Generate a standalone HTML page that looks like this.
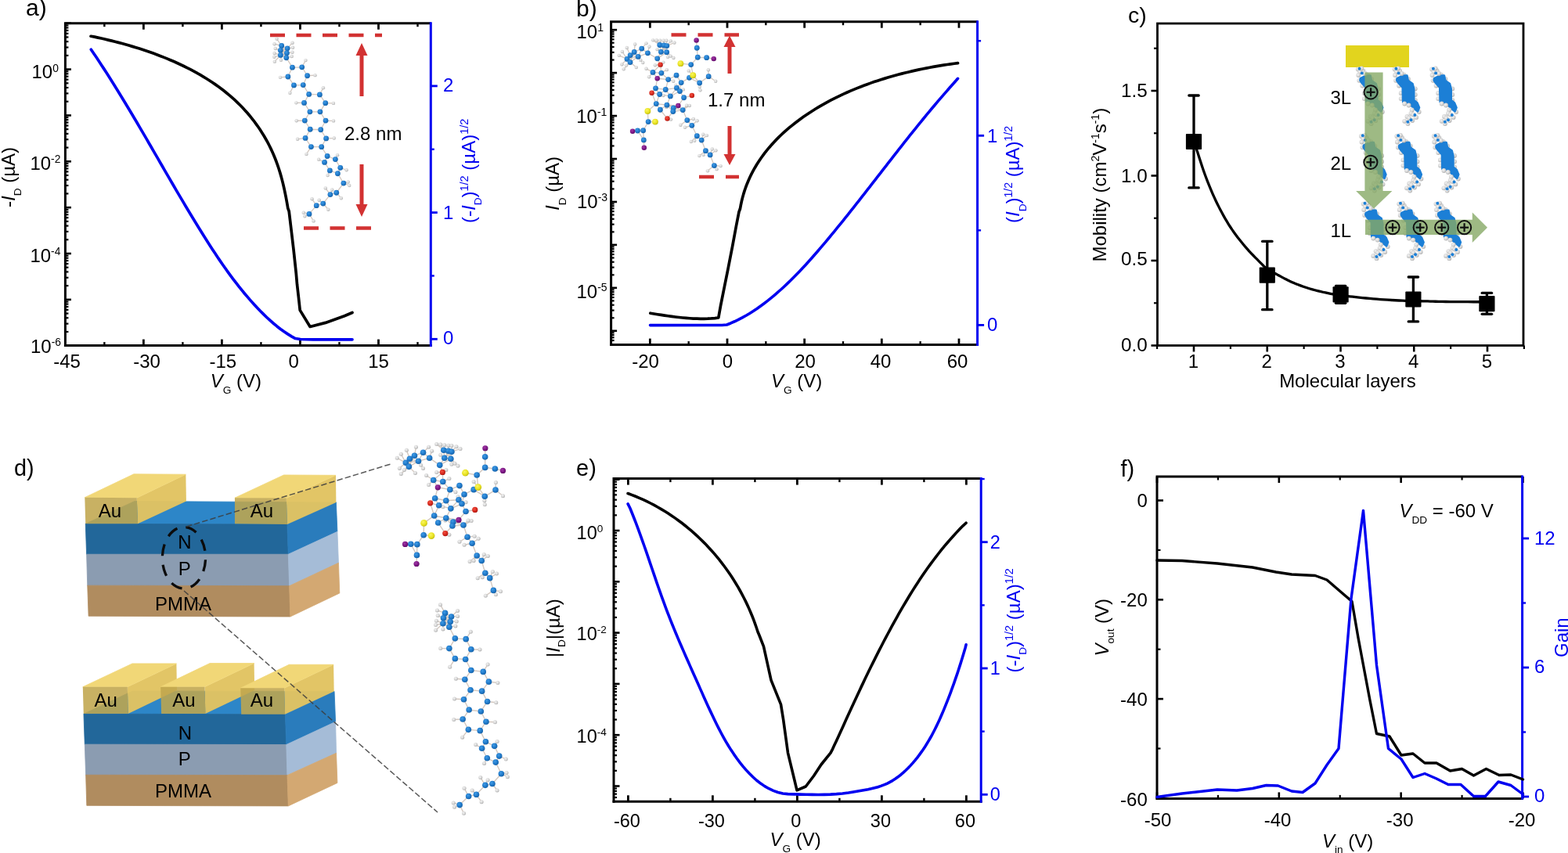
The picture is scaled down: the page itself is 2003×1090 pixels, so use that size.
<!DOCTYPE html>
<html lang="en"><head><meta charset="utf-8"><title>Figure</title>
<style>html,body{margin:0;padding:0;background:#fff;overflow:hidden}svg{display:block;font-family:"Liberation Sans",sans-serif}</style></head>
<body>
<svg width="2003" height="1090" viewBox="0 0 2003 1090">
<rect width="2003" height="1090" fill="#fff"/>
<defs><radialGradient id="gC" cx="0.38" cy="0.35" r="0.75"><stop offset="0" stop-color="#3f9be6"/><stop offset="0.55" stop-color="#1f78c8"/><stop offset="1" stop-color="#155c9e"/></radialGradient><radialGradient id="gH" cx="0.4" cy="0.38" r="0.75"><stop offset="0" stop-color="#f4f4f4"/><stop offset="0.5" stop-color="#d6d6d6"/><stop offset="1" stop-color="#9c9c9c"/></radialGradient><radialGradient id="gO" cx="0.38" cy="0.35" r="0.75"><stop offset="0" stop-color="#f2503f"/><stop offset="0.6" stop-color="#d3261c"/><stop offset="1" stop-color="#9c160e"/></radialGradient><radialGradient id="gS" cx="0.38" cy="0.35" r="0.75"><stop offset="0" stop-color="#fbf760"/><stop offset="0.6" stop-color="#e6e01e"/><stop offset="1" stop-color="#b4ae10"/></radialGradient><radialGradient id="gN" cx="0.38" cy="0.35" r="0.75"><stop offset="0" stop-color="#a03aa6"/><stop offset="0.6" stop-color="#7a1482"/><stop offset="1" stop-color="#560a5c"/></radialGradient></defs>
<line x1="183.38" y1="441.6" x2="183.38" y2="433.6" stroke="#000" stroke-width="2.8"/>
<line x1="183.38" y1="29.7" x2="183.38" y2="37.7" stroke="#000" stroke-width="2.8"/>
<line x1="283.41" y1="441.6" x2="283.41" y2="433.6" stroke="#000" stroke-width="2.8"/>
<line x1="283.41" y1="29.7" x2="283.41" y2="37.7" stroke="#000" stroke-width="2.8"/>
<line x1="383.45" y1="441.6" x2="383.45" y2="433.6" stroke="#000" stroke-width="2.8"/>
<line x1="383.45" y1="29.7" x2="383.45" y2="37.7" stroke="#000" stroke-width="2.8"/>
<line x1="483.49" y1="441.6" x2="483.49" y2="433.6" stroke="#000" stroke-width="2.8"/>
<line x1="483.49" y1="29.7" x2="483.49" y2="37.7" stroke="#000" stroke-width="2.8"/>
<line x1="133.36" y1="441.6" x2="133.36" y2="437.1" stroke="#000" stroke-width="2.4"/>
<line x1="133.36" y1="29.7" x2="133.36" y2="34.2" stroke="#000" stroke-width="2.4"/>
<line x1="233.4" y1="441.6" x2="233.4" y2="437.1" stroke="#000" stroke-width="2.4"/>
<line x1="233.4" y1="29.7" x2="233.4" y2="34.2" stroke="#000" stroke-width="2.4"/>
<line x1="333.43" y1="441.6" x2="333.43" y2="437.1" stroke="#000" stroke-width="2.4"/>
<line x1="333.43" y1="29.7" x2="333.43" y2="34.2" stroke="#000" stroke-width="2.4"/>
<line x1="433.47" y1="441.6" x2="433.47" y2="437.1" stroke="#000" stroke-width="2.4"/>
<line x1="433.47" y1="29.7" x2="433.47" y2="34.2" stroke="#000" stroke-width="2.4"/>
<line x1="533.5" y1="441.6" x2="533.5" y2="437.1" stroke="#000" stroke-width="2.4"/>
<line x1="533.5" y1="29.7" x2="533.5" y2="34.2" stroke="#000" stroke-width="2.4"/>
<line x1="83.4" y1="441.7" x2="90.9" y2="441.7" stroke="#000" stroke-width="2.6"/>
<line x1="83.4" y1="423.98" x2="87.4" y2="423.98" stroke="#000" stroke-width="2.2"/>
<line x1="83.4" y1="413.62" x2="87.4" y2="413.62" stroke="#000" stroke-width="2.2"/>
<line x1="83.4" y1="406.27" x2="87.4" y2="406.27" stroke="#000" stroke-width="2.2"/>
<line x1="83.4" y1="400.57" x2="87.4" y2="400.57" stroke="#000" stroke-width="2.2"/>
<line x1="83.4" y1="395.91" x2="87.4" y2="395.91" stroke="#000" stroke-width="2.2"/>
<line x1="83.4" y1="391.97" x2="87.4" y2="391.97" stroke="#000" stroke-width="2.2"/>
<line x1="83.4" y1="388.55" x2="87.4" y2="388.55" stroke="#000" stroke-width="2.2"/>
<line x1="83.4" y1="385.54" x2="87.4" y2="385.54" stroke="#000" stroke-width="2.2"/>
<line x1="83.4" y1="382.85" x2="90.9" y2="382.85" stroke="#000" stroke-width="2.6"/>
<line x1="83.4" y1="365.13" x2="87.4" y2="365.13" stroke="#000" stroke-width="2.2"/>
<line x1="83.4" y1="354.77" x2="87.4" y2="354.77" stroke="#000" stroke-width="2.2"/>
<line x1="83.4" y1="347.42" x2="87.4" y2="347.42" stroke="#000" stroke-width="2.2"/>
<line x1="83.4" y1="341.72" x2="87.4" y2="341.72" stroke="#000" stroke-width="2.2"/>
<line x1="83.4" y1="337.06" x2="87.4" y2="337.06" stroke="#000" stroke-width="2.2"/>
<line x1="83.4" y1="333.12" x2="87.4" y2="333.12" stroke="#000" stroke-width="2.2"/>
<line x1="83.4" y1="329.7" x2="87.4" y2="329.7" stroke="#000" stroke-width="2.2"/>
<line x1="83.4" y1="326.69" x2="87.4" y2="326.69" stroke="#000" stroke-width="2.2"/>
<line x1="83.4" y1="324" x2="90.9" y2="324" stroke="#000" stroke-width="2.6"/>
<line x1="83.4" y1="306.28" x2="87.4" y2="306.28" stroke="#000" stroke-width="2.2"/>
<line x1="83.4" y1="295.92" x2="87.4" y2="295.92" stroke="#000" stroke-width="2.2"/>
<line x1="83.4" y1="288.57" x2="87.4" y2="288.57" stroke="#000" stroke-width="2.2"/>
<line x1="83.4" y1="282.87" x2="87.4" y2="282.87" stroke="#000" stroke-width="2.2"/>
<line x1="83.4" y1="278.21" x2="87.4" y2="278.21" stroke="#000" stroke-width="2.2"/>
<line x1="83.4" y1="274.27" x2="87.4" y2="274.27" stroke="#000" stroke-width="2.2"/>
<line x1="83.4" y1="270.85" x2="87.4" y2="270.85" stroke="#000" stroke-width="2.2"/>
<line x1="83.4" y1="267.84" x2="87.4" y2="267.84" stroke="#000" stroke-width="2.2"/>
<line x1="83.4" y1="265.15" x2="90.9" y2="265.15" stroke="#000" stroke-width="2.6"/>
<line x1="83.4" y1="247.43" x2="87.4" y2="247.43" stroke="#000" stroke-width="2.2"/>
<line x1="83.4" y1="237.07" x2="87.4" y2="237.07" stroke="#000" stroke-width="2.2"/>
<line x1="83.4" y1="229.72" x2="87.4" y2="229.72" stroke="#000" stroke-width="2.2"/>
<line x1="83.4" y1="224.02" x2="87.4" y2="224.02" stroke="#000" stroke-width="2.2"/>
<line x1="83.4" y1="219.36" x2="87.4" y2="219.36" stroke="#000" stroke-width="2.2"/>
<line x1="83.4" y1="215.42" x2="87.4" y2="215.42" stroke="#000" stroke-width="2.2"/>
<line x1="83.4" y1="212" x2="87.4" y2="212" stroke="#000" stroke-width="2.2"/>
<line x1="83.4" y1="208.99" x2="87.4" y2="208.99" stroke="#000" stroke-width="2.2"/>
<line x1="83.4" y1="206.3" x2="90.9" y2="206.3" stroke="#000" stroke-width="2.6"/>
<line x1="83.4" y1="188.58" x2="87.4" y2="188.58" stroke="#000" stroke-width="2.2"/>
<line x1="83.4" y1="178.22" x2="87.4" y2="178.22" stroke="#000" stroke-width="2.2"/>
<line x1="83.4" y1="170.87" x2="87.4" y2="170.87" stroke="#000" stroke-width="2.2"/>
<line x1="83.4" y1="165.17" x2="87.4" y2="165.17" stroke="#000" stroke-width="2.2"/>
<line x1="83.4" y1="160.51" x2="87.4" y2="160.51" stroke="#000" stroke-width="2.2"/>
<line x1="83.4" y1="156.57" x2="87.4" y2="156.57" stroke="#000" stroke-width="2.2"/>
<line x1="83.4" y1="153.15" x2="87.4" y2="153.15" stroke="#000" stroke-width="2.2"/>
<line x1="83.4" y1="150.14" x2="87.4" y2="150.14" stroke="#000" stroke-width="2.2"/>
<line x1="83.4" y1="147.45" x2="90.9" y2="147.45" stroke="#000" stroke-width="2.6"/>
<line x1="83.4" y1="129.73" x2="87.4" y2="129.73" stroke="#000" stroke-width="2.2"/>
<line x1="83.4" y1="119.37" x2="87.4" y2="119.37" stroke="#000" stroke-width="2.2"/>
<line x1="83.4" y1="112.02" x2="87.4" y2="112.02" stroke="#000" stroke-width="2.2"/>
<line x1="83.4" y1="106.32" x2="87.4" y2="106.32" stroke="#000" stroke-width="2.2"/>
<line x1="83.4" y1="101.66" x2="87.4" y2="101.66" stroke="#000" stroke-width="2.2"/>
<line x1="83.4" y1="97.72" x2="87.4" y2="97.72" stroke="#000" stroke-width="2.2"/>
<line x1="83.4" y1="94.3" x2="87.4" y2="94.3" stroke="#000" stroke-width="2.2"/>
<line x1="83.4" y1="91.29" x2="87.4" y2="91.29" stroke="#000" stroke-width="2.2"/>
<line x1="83.4" y1="88.6" x2="90.9" y2="88.6" stroke="#000" stroke-width="2.6"/>
<line x1="83.4" y1="70.88" x2="87.4" y2="70.88" stroke="#000" stroke-width="2.2"/>
<line x1="83.4" y1="60.52" x2="87.4" y2="60.52" stroke="#000" stroke-width="2.2"/>
<line x1="83.4" y1="53.17" x2="87.4" y2="53.17" stroke="#000" stroke-width="2.2"/>
<line x1="83.4" y1="47.47" x2="87.4" y2="47.47" stroke="#000" stroke-width="2.2"/>
<line x1="83.4" y1="42.81" x2="87.4" y2="42.81" stroke="#000" stroke-width="2.2"/>
<line x1="83.4" y1="38.87" x2="87.4" y2="38.87" stroke="#000" stroke-width="2.2"/>
<line x1="83.4" y1="35.45" x2="87.4" y2="35.45" stroke="#000" stroke-width="2.2"/>
<line x1="83.4" y1="32.44" x2="87.4" y2="32.44" stroke="#000" stroke-width="2.2"/>
<line x1="83.4" y1="29.75" x2="90.9" y2="29.75" stroke="#000" stroke-width="2.6"/>
<line x1="550.3" y1="433.3" x2="558.8" y2="433.3" stroke="#0000f0" stroke-width="2.8"/>
<line x1="550.3" y1="271.6" x2="558.8" y2="271.6" stroke="#0000f0" stroke-width="2.8"/>
<line x1="550.3" y1="109.9" x2="558.8" y2="109.9" stroke="#0000f0" stroke-width="2.8"/>
<line x1="550.3" y1="352.45" x2="554.8" y2="352.45" stroke="#0000f0" stroke-width="2.4"/>
<line x1="550.3" y1="190.75" x2="554.8" y2="190.75" stroke="#0000f0" stroke-width="2.4"/>
<polyline fill="none" stroke="#000" stroke-width="3" stroke-linejoin="miter" points="83.4,443 83.4,29.7 550.3,29.7"/>
<line x1="82" y1="441.6" x2="551.7" y2="441.6" stroke="#000" stroke-width="3"/>
<line x1="550.3" y1="28.2" x2="550.3" y2="443" stroke="#0000f0" stroke-width="3"/>
<polyline fill="none" stroke="#000" stroke-width="3.7" stroke-linejoin="round" stroke-linecap="round" points="116,46.3 120.88,47.18 125.18,48.1 129.5,49.06 133.85,50.06 138.22,51.09 142.6,52.15 147,53.26 151.41,54.4 155.83,55.58 160.27,56.8 164.7,58.06 169.15,59.37 173.59,60.71 178.04,62.1 182.48,63.54 186.91,65.02 191.34,66.54 195.76,68.11 200.17,69.73 204.57,71.4 208.94,73.11 213.3,74.88 217.64,76.69 221.96,78.56 226.25,80.48 230.52,82.45 234.75,84.48 238.96,86.56 243.13,88.69 247.26,90.88 251.36,93.13 255.41,95.44 259.42,97.81 263.39,100.23 267.31,102.72 271.17,105.27 274.99,107.88 278.75,110.55 282.46,113.29 286.11,116.09 289.7,118.95 293.22,121.88 296.68,124.88 300.07,127.95 303.39,131.08 306.64,134.29 309.82,137.56 312.92,140.9 315.94,144.31 318.89,147.78 321.76,151.31 324.55,154.91 327.27,158.56 329.89,162.28 332.44,166.06 334.9,169.89 337.28,173.78 339.57,177.72 341.78,181.72 343.89,185.77 345.92,189.87 347.85,194.02 349.69,198.22 351.44,202.47 353.09,206.76 354.65,211.1 356.12,215.48 357.51,219.9 358.82,224.37 360.05,228.87 361.21,233.41 362.3,237.99 363.34,242.61 364.32,247.26 365.25,251.95 366.13,256.67 366.98,261.41 367.79,266.19 369.2,270 372.3,295.9 375,318.8 378.3,349.5 379.5,363.3 381.4,379.9 383.2,396.4 396.1,417.5 415.8,412.4 440,403.7 450,399.5"/>
<polyline fill="none" stroke="#0000f0" stroke-width="3.7" stroke-linejoin="round" stroke-linecap="round" points="116.3,63.2 119.52,67.92 122.82,72.83 126.09,77.75 129.33,82.68 132.55,87.62 135.74,92.57 138.91,97.53 142.05,102.5 145.18,107.47 148.28,112.45 151.36,117.44 154.43,122.43 157.48,127.43 160.51,132.44 163.52,137.45 166.53,142.46 169.52,147.49 172.49,152.51 175.46,157.54 178.42,162.57 181.37,167.61 184.31,172.65 187.24,177.69 190.17,182.74 193.1,187.78 196.02,192.83 198.94,197.88 201.86,202.93 204.78,207.98 207.7,213.03 210.62,218.08 213.54,223.12 216.47,228.17 219.41,233.22 222.35,238.26 225.3,243.31 228.26,248.35 231.22,253.38 234.2,258.42 237.19,263.45 240.2,268.47 243.21,273.5 246.25,278.52 249.3,283.53 252.36,288.54 255.45,293.54 258.55,298.53 261.68,303.52 264.83,308.5 268,313.46 271.21,318.41 274.44,323.34 277.71,328.24 281.02,333.12 284.36,337.97 287.75,342.79 291.17,347.58 294.64,352.34 298.16,357.05 301.73,361.72 305.35,366.35 309.03,370.92 312.77,375.45 316.56,379.93 320.42,384.35 324.34,388.71 328.32,393.01 332.38,397.24 336.51,401.4 340.71,405.46 344.99,409.42 349.34,413.24 353.78,416.92 358.3,420.43 362.91,423.77 367.6,426.91 372.39,429.83 377.27,432.52 383.7,433.5 400,433.8 450,433.8"/>
<text x="33" y="19.7" font-size="30">a)</text>
<text x="40.5" y="100.1" font-size="24">10<tspan font-size="13.8" dy="-7.7">0</tspan><tspan dy="7.7" font-size="1">&#8203;</tspan></text>
<text x="38.4" y="217.2" font-size="24">10<tspan font-size="13.8" dy="-9">-2</tspan><tspan dy="9" font-size="1">&#8203;</tspan></text>
<text x="38.4" y="334.6" font-size="24">10<tspan font-size="13.8" dy="-9">-4</tspan><tspan dy="9" font-size="1">&#8203;</tspan></text>
<text x="39" y="451.4" font-size="24">10<tspan font-size="13.8" dy="-9">-6</tspan><tspan dy="9" font-size="1">&#8203;</tspan></text>
<text x="85.5" y="470.3" font-size="24" text-anchor="middle">-45</text>
<text x="187.6" y="470.3" font-size="24" text-anchor="middle">-30</text>
<text x="284.8" y="470.3" font-size="24" text-anchor="middle">-15</text>
<text x="375.2" y="470.3" font-size="24" text-anchor="middle">0</text>
<text x="483.5" y="470.3" font-size="24" text-anchor="middle">15</text>
<text x="268.7" y="494.6" font-size="24"><tspan font-style="italic">V</tspan><tspan font-size="13.6" dy="8">G</tspan><tspan dy="-8" font-size="1">&#8203;</tspan> (V)</text>
<text transform="translate(19.3 265) rotate(-90)" font-size="24">-<tspan font-style="italic">I</tspan><tspan font-size="13.6" dy="7.5">D</tspan><tspan dy="-7.5" font-size="1">&#8203;</tspan> (µA)</text>
<text x="566" y="439.9" font-size="24" fill="#0000f0">0</text>
<text x="566" y="280.2" font-size="24" fill="#0000f0">1</text>
<text x="566" y="117.1" font-size="24" fill="#0000f0">2</text>
<text transform="translate(607 285) rotate(-90)" font-size="24" fill="#0000f0">(-<tspan font-style="italic">I</tspan><tspan font-size="13.6" dy="7.5">D</tspan><tspan dy="-7.5" font-size="1">&#8203;</tspan>)<tspan font-size="14.5" dy="-9.5">1/2</tspan><tspan dy="9.5" font-size="1">&#8203;</tspan> (µA)<tspan font-size="14.5" dy="-9.5">1/2</tspan><tspan dy="9.5" font-size="1">&#8203;</tspan></text>
<line x1="345" y1="45" x2="488" y2="45" stroke="#d23232" stroke-width="4.6" stroke-dasharray="19 14.5"/>
<line x1="388" y1="291.5" x2="476" y2="291.5" stroke="#d23232" stroke-width="4.6" stroke-dasharray="19 14.5"/>
<line x1="462" y1="123" x2="462" y2="70" stroke="#d23232" stroke-width="5"/>
<polygon fill="#d23232" points="462,55 454.5,71 469.5,71"/>
<line x1="462" y1="210" x2="462" y2="262" stroke="#d23232" stroke-width="5"/>
<polygon fill="#d23232" points="462,277 454.5,261 469.5,261"/>
<text x="440" y="178.5" font-size="24">2.8 nm</text>
<line x1="830.34" y1="440.6" x2="830.34" y2="432.6" stroke="#000" stroke-width="2.8"/>
<line x1="830.34" y1="27.7" x2="830.34" y2="35.7" stroke="#000" stroke-width="2.8"/>
<line x1="929" y1="440.6" x2="929" y2="432.6" stroke="#000" stroke-width="2.8"/>
<line x1="929" y1="27.7" x2="929" y2="35.7" stroke="#000" stroke-width="2.8"/>
<line x1="1027.66" y1="440.6" x2="1027.66" y2="432.6" stroke="#000" stroke-width="2.8"/>
<line x1="1027.66" y1="27.7" x2="1027.66" y2="35.7" stroke="#000" stroke-width="2.8"/>
<line x1="1126.32" y1="440.6" x2="1126.32" y2="432.6" stroke="#000" stroke-width="2.8"/>
<line x1="1126.32" y1="27.7" x2="1126.32" y2="35.7" stroke="#000" stroke-width="2.8"/>
<line x1="1224.98" y1="440.6" x2="1224.98" y2="432.6" stroke="#000" stroke-width="2.8"/>
<line x1="1224.98" y1="27.7" x2="1224.98" y2="35.7" stroke="#000" stroke-width="2.8"/>
<line x1="879.67" y1="440.6" x2="879.67" y2="436.1" stroke="#000" stroke-width="2.4"/>
<line x1="879.67" y1="27.7" x2="879.67" y2="32.2" stroke="#000" stroke-width="2.4"/>
<line x1="978.33" y1="440.6" x2="978.33" y2="436.1" stroke="#000" stroke-width="2.4"/>
<line x1="978.33" y1="27.7" x2="978.33" y2="32.2" stroke="#000" stroke-width="2.4"/>
<line x1="1076.99" y1="440.6" x2="1076.99" y2="436.1" stroke="#000" stroke-width="2.4"/>
<line x1="1076.99" y1="27.7" x2="1076.99" y2="32.2" stroke="#000" stroke-width="2.4"/>
<line x1="1175.65" y1="440.6" x2="1175.65" y2="436.1" stroke="#000" stroke-width="2.4"/>
<line x1="1175.65" y1="27.7" x2="1175.65" y2="32.2" stroke="#000" stroke-width="2.4"/>
<line x1="780.6" y1="434.99" x2="784.6" y2="434.99" stroke="#000" stroke-width="2.2"/>
<line x1="780.6" y1="431.31" x2="784.6" y2="431.31" stroke="#000" stroke-width="2.2"/>
<line x1="780.6" y1="428.13" x2="784.6" y2="428.13" stroke="#000" stroke-width="2.2"/>
<line x1="780.6" y1="425.31" x2="784.6" y2="425.31" stroke="#000" stroke-width="2.2"/>
<line x1="780.6" y1="422.8" x2="788.1" y2="422.8" stroke="#000" stroke-width="2.6"/>
<line x1="780.6" y1="406.26" x2="784.6" y2="406.26" stroke="#000" stroke-width="2.2"/>
<line x1="780.6" y1="396.58" x2="784.6" y2="396.58" stroke="#000" stroke-width="2.2"/>
<line x1="780.6" y1="389.72" x2="784.6" y2="389.72" stroke="#000" stroke-width="2.2"/>
<line x1="780.6" y1="384.39" x2="784.6" y2="384.39" stroke="#000" stroke-width="2.2"/>
<line x1="780.6" y1="380.04" x2="784.6" y2="380.04" stroke="#000" stroke-width="2.2"/>
<line x1="780.6" y1="376.36" x2="784.6" y2="376.36" stroke="#000" stroke-width="2.2"/>
<line x1="780.6" y1="373.18" x2="784.6" y2="373.18" stroke="#000" stroke-width="2.2"/>
<line x1="780.6" y1="370.36" x2="784.6" y2="370.36" stroke="#000" stroke-width="2.2"/>
<line x1="780.6" y1="367.85" x2="788.1" y2="367.85" stroke="#000" stroke-width="2.6"/>
<line x1="780.6" y1="351.31" x2="784.6" y2="351.31" stroke="#000" stroke-width="2.2"/>
<line x1="780.6" y1="341.63" x2="784.6" y2="341.63" stroke="#000" stroke-width="2.2"/>
<line x1="780.6" y1="334.77" x2="784.6" y2="334.77" stroke="#000" stroke-width="2.2"/>
<line x1="780.6" y1="329.44" x2="784.6" y2="329.44" stroke="#000" stroke-width="2.2"/>
<line x1="780.6" y1="325.09" x2="784.6" y2="325.09" stroke="#000" stroke-width="2.2"/>
<line x1="780.6" y1="321.41" x2="784.6" y2="321.41" stroke="#000" stroke-width="2.2"/>
<line x1="780.6" y1="318.23" x2="784.6" y2="318.23" stroke="#000" stroke-width="2.2"/>
<line x1="780.6" y1="315.41" x2="784.6" y2="315.41" stroke="#000" stroke-width="2.2"/>
<line x1="780.6" y1="312.9" x2="788.1" y2="312.9" stroke="#000" stroke-width="2.6"/>
<line x1="780.6" y1="296.36" x2="784.6" y2="296.36" stroke="#000" stroke-width="2.2"/>
<line x1="780.6" y1="286.68" x2="784.6" y2="286.68" stroke="#000" stroke-width="2.2"/>
<line x1="780.6" y1="279.82" x2="784.6" y2="279.82" stroke="#000" stroke-width="2.2"/>
<line x1="780.6" y1="274.49" x2="784.6" y2="274.49" stroke="#000" stroke-width="2.2"/>
<line x1="780.6" y1="270.14" x2="784.6" y2="270.14" stroke="#000" stroke-width="2.2"/>
<line x1="780.6" y1="266.46" x2="784.6" y2="266.46" stroke="#000" stroke-width="2.2"/>
<line x1="780.6" y1="263.28" x2="784.6" y2="263.28" stroke="#000" stroke-width="2.2"/>
<line x1="780.6" y1="260.46" x2="784.6" y2="260.46" stroke="#000" stroke-width="2.2"/>
<line x1="780.6" y1="257.95" x2="788.1" y2="257.95" stroke="#000" stroke-width="2.6"/>
<line x1="780.6" y1="241.41" x2="784.6" y2="241.41" stroke="#000" stroke-width="2.2"/>
<line x1="780.6" y1="231.73" x2="784.6" y2="231.73" stroke="#000" stroke-width="2.2"/>
<line x1="780.6" y1="224.87" x2="784.6" y2="224.87" stroke="#000" stroke-width="2.2"/>
<line x1="780.6" y1="219.54" x2="784.6" y2="219.54" stroke="#000" stroke-width="2.2"/>
<line x1="780.6" y1="215.19" x2="784.6" y2="215.19" stroke="#000" stroke-width="2.2"/>
<line x1="780.6" y1="211.51" x2="784.6" y2="211.51" stroke="#000" stroke-width="2.2"/>
<line x1="780.6" y1="208.33" x2="784.6" y2="208.33" stroke="#000" stroke-width="2.2"/>
<line x1="780.6" y1="205.51" x2="784.6" y2="205.51" stroke="#000" stroke-width="2.2"/>
<line x1="780.6" y1="203" x2="788.1" y2="203" stroke="#000" stroke-width="2.6"/>
<line x1="780.6" y1="186.46" x2="784.6" y2="186.46" stroke="#000" stroke-width="2.2"/>
<line x1="780.6" y1="176.78" x2="784.6" y2="176.78" stroke="#000" stroke-width="2.2"/>
<line x1="780.6" y1="169.92" x2="784.6" y2="169.92" stroke="#000" stroke-width="2.2"/>
<line x1="780.6" y1="164.59" x2="784.6" y2="164.59" stroke="#000" stroke-width="2.2"/>
<line x1="780.6" y1="160.24" x2="784.6" y2="160.24" stroke="#000" stroke-width="2.2"/>
<line x1="780.6" y1="156.56" x2="784.6" y2="156.56" stroke="#000" stroke-width="2.2"/>
<line x1="780.6" y1="153.38" x2="784.6" y2="153.38" stroke="#000" stroke-width="2.2"/>
<line x1="780.6" y1="150.56" x2="784.6" y2="150.56" stroke="#000" stroke-width="2.2"/>
<line x1="780.6" y1="148.05" x2="788.1" y2="148.05" stroke="#000" stroke-width="2.6"/>
<line x1="780.6" y1="131.51" x2="784.6" y2="131.51" stroke="#000" stroke-width="2.2"/>
<line x1="780.6" y1="121.83" x2="784.6" y2="121.83" stroke="#000" stroke-width="2.2"/>
<line x1="780.6" y1="114.97" x2="784.6" y2="114.97" stroke="#000" stroke-width="2.2"/>
<line x1="780.6" y1="109.64" x2="784.6" y2="109.64" stroke="#000" stroke-width="2.2"/>
<line x1="780.6" y1="105.29" x2="784.6" y2="105.29" stroke="#000" stroke-width="2.2"/>
<line x1="780.6" y1="101.61" x2="784.6" y2="101.61" stroke="#000" stroke-width="2.2"/>
<line x1="780.6" y1="98.43" x2="784.6" y2="98.43" stroke="#000" stroke-width="2.2"/>
<line x1="780.6" y1="95.61" x2="784.6" y2="95.61" stroke="#000" stroke-width="2.2"/>
<line x1="780.6" y1="93.1" x2="788.1" y2="93.1" stroke="#000" stroke-width="2.6"/>
<line x1="780.6" y1="76.56" x2="784.6" y2="76.56" stroke="#000" stroke-width="2.2"/>
<line x1="780.6" y1="66.88" x2="784.6" y2="66.88" stroke="#000" stroke-width="2.2"/>
<line x1="780.6" y1="60.02" x2="784.6" y2="60.02" stroke="#000" stroke-width="2.2"/>
<line x1="780.6" y1="54.69" x2="784.6" y2="54.69" stroke="#000" stroke-width="2.2"/>
<line x1="780.6" y1="50.34" x2="784.6" y2="50.34" stroke="#000" stroke-width="2.2"/>
<line x1="780.6" y1="46.66" x2="784.6" y2="46.66" stroke="#000" stroke-width="2.2"/>
<line x1="780.6" y1="43.48" x2="784.6" y2="43.48" stroke="#000" stroke-width="2.2"/>
<line x1="780.6" y1="40.66" x2="784.6" y2="40.66" stroke="#000" stroke-width="2.2"/>
<line x1="780.6" y1="38.15" x2="788.1" y2="38.15" stroke="#000" stroke-width="2.6"/>
<line x1="1248.6" y1="415.4" x2="1257.1" y2="415.4" stroke="#0000f0" stroke-width="2.8"/>
<line x1="1248.6" y1="173.3" x2="1257.1" y2="173.3" stroke="#0000f0" stroke-width="2.8"/>
<line x1="1248.6" y1="294.35" x2="1253.1" y2="294.35" stroke="#0000f0" stroke-width="2.4"/>
<line x1="1248.6" y1="52.25" x2="1253.1" y2="52.25" stroke="#0000f0" stroke-width="2.4"/>
<polyline fill="none" stroke="#000" stroke-width="3" stroke-linejoin="miter" points="780.6,442 780.6,27.7 1248.6,27.7"/>
<line x1="779.2" y1="440.6" x2="1250" y2="440.6" stroke="#000" stroke-width="3"/>
<line x1="1248.6" y1="26.2" x2="1248.6" y2="442" stroke="#0000f0" stroke-width="3"/>
<polyline fill="none" stroke="#000" stroke-width="3.7" stroke-linejoin="round" stroke-linecap="round" points="830.8,400.2 835.32,400.98 839.86,401.71 844.41,402.42 848.96,403.11 853.53,403.78 858.1,404.41 862.68,404.99 867.27,405.53 871.86,406.01 876.45,406.43 881.05,406.77 885.65,407.04 890.25,407.22 894.85,407.31 899.45,407.3 904.04,407.18 908.64,406.95 913.23,406.6 917.8,406 917.8,406 920.5,390.9 925.1,367.9 929.8,344.7 935.8,313.8 940.4,289 944,270.7 944,270.7 945.47,266.77 946.33,262 947.33,257.3 948.47,252.68 949.73,248.13 951.13,243.66 952.65,239.26 954.29,234.94 956.05,230.7 957.93,226.52 959.92,222.42 962.02,218.39 964.23,214.43 966.54,210.55 968.96,206.73 971.47,202.98 974.08,199.3 976.78,195.69 979.57,192.15 982.45,188.67 985.41,185.27 988.45,181.92 991.56,178.64 994.76,175.43 998.02,172.28 1001.35,169.2 1004.74,166.18 1008.2,163.21 1011.72,160.32 1015.29,157.48 1018.92,154.7 1022.59,151.98 1026.32,149.33 1030.08,146.73 1033.89,144.19 1037.74,141.7 1041.62,139.28 1045.54,136.91 1049.49,134.59 1053.48,132.33 1057.5,130.12 1061.56,127.97 1065.64,125.87 1069.75,123.83 1073.89,121.83 1078.06,119.89 1082.25,118 1086.47,116.16 1090.71,114.36 1094.97,112.62 1099.25,110.93 1103.56,109.28 1107.88,107.68 1112.22,106.12 1116.58,104.62 1120.96,103.15 1125.34,101.74 1129.75,100.36 1134.16,99.03 1138.58,97.75 1143.02,96.5 1147.46,95.3 1151.91,94.14 1156.37,93.01 1160.83,91.93 1165.3,90.89 1169.77,89.89 1174.24,88.92 1178.71,87.99 1183.18,87.1 1187.65,86.24 1192.12,85.42 1196.58,84.64 1201.04,83.89 1205.5,83.17 1209.94,82.49 1214.38,81.84 1218.81,81.22 1223.6,80.7"/>
<polyline fill="none" stroke="#0000f0" stroke-width="3.6" stroke-linejoin="round" stroke-linecap="round" points="830.5,415.6 922.3,415.5 928.43,415.01 933.48,412.97 938.45,410.77 943.36,408.4 948.19,405.89 952.96,403.23 957.66,400.43 962.3,397.51 966.87,394.46 971.38,391.29 975.83,388.02 980.23,384.64 984.57,381.17 988.85,377.61 993.09,373.98 997.27,370.27 1001.4,366.49 1005.49,362.64 1009.53,358.73 1013.53,354.76 1017.49,350.74 1021.4,346.68 1025.28,342.56 1029.12,338.41 1032.93,334.22 1036.7,330 1040.44,325.75 1044.15,321.48 1047.84,317.18 1051.5,312.88 1055.13,308.56 1058.74,304.24 1062.33,299.91 1065.9,295.57 1069.45,291.23 1072.98,286.89 1076.5,282.53 1080,278.18 1083.48,273.82 1086.95,269.46 1090.41,265.09 1093.86,260.72 1097.3,256.35 1100.73,251.97 1104.15,247.6 1107.56,243.22 1110.97,238.84 1114.37,234.46 1117.77,230.08 1121.17,225.69 1124.57,221.31 1127.97,216.93 1131.37,212.55 1134.77,208.17 1138.18,203.79 1141.59,199.42 1145,195.04 1148.43,190.67 1151.86,186.3 1155.3,181.93 1158.75,177.57 1162.22,173.21 1165.69,168.86 1169.18,164.51 1172.69,160.16 1176.21,155.82 1179.75,151.49 1183.3,147.16 1186.88,142.84 1190.48,138.52 1194.1,134.22 1197.74,129.91 1201.41,125.62 1205.1,121.34 1208.82,117.06 1212.57,112.79 1216.34,108.53 1220.15,104.28 1223.6,100.3"/>
<text x="736" y="20.5" font-size="30">b)</text>
<text x="736.5" y="48.8" font-size="24">10<tspan font-size="14" dy="-9">1</tspan><tspan dy="9" font-size="1">&#8203;</tspan></text>
<text x="736.2" y="157" font-size="24">10<tspan font-size="14" dy="-9">-1</tspan><tspan dy="9" font-size="1">&#8203;</tspan></text>
<text x="737" y="266" font-size="24">10<tspan font-size="14" dy="-9">-3</tspan><tspan dy="9" font-size="1">&#8203;</tspan></text>
<text x="736.5" y="380.8" font-size="24">10<tspan font-size="14" dy="-9">-5</tspan><tspan dy="9" font-size="1">&#8203;</tspan></text>
<text x="824.5" y="470.2" font-size="24" text-anchor="middle">-20</text>
<text x="929.5" y="470.2" font-size="24" text-anchor="middle">0</text>
<text x="1028.5" y="470.2" font-size="24" text-anchor="middle">20</text>
<text x="1125" y="470.2" font-size="24" text-anchor="middle">40</text>
<text x="1223" y="470.2" font-size="24" text-anchor="middle">60</text>
<text x="985" y="495" font-size="24"><tspan font-style="italic">V</tspan><tspan font-size="13.6" dy="8">G</tspan><tspan dy="-8" font-size="1">&#8203;</tspan> (V)</text>
<text transform="translate(714.3 269) rotate(-90)" font-size="24"><tspan font-style="italic">I</tspan><tspan font-size="13.6" dy="9">D</tspan><tspan dy="-9" font-size="1">&#8203;</tspan> (µA)</text>
<text x="1261" y="422.7" font-size="24" fill="#0000f0">0</text>
<text x="1261" y="181.9" font-size="24" fill="#0000f0">1</text>
<text transform="translate(1302 285) rotate(-90)" font-size="24" fill="#0000f0">(<tspan font-style="italic">I</tspan><tspan font-size="13.6" dy="8.5">D</tspan><tspan dy="-8.5" font-size="1">&#8203;</tspan>)<tspan font-size="14" dy="-9.5">1/2</tspan><tspan dy="9.5" font-size="1">&#8203;</tspan> (µA)<tspan font-size="14" dy="-9.5">1/2</tspan><tspan dy="9.5" font-size="1">&#8203;</tspan></text>
<line x1="857.5" y1="44.5" x2="944" y2="44.5" stroke="#d23232" stroke-width="4.6" stroke-dasharray="19 15"/>
<line x1="893" y1="226" x2="944" y2="226" stroke="#d23232" stroke-width="4.6" stroke-dasharray="19 15"/>
<line x1="932" y1="94" x2="932" y2="58" stroke="#d23232" stroke-width="5"/>
<polygon fill="#d23232" points="932,45.5 924.5,60 939.5,60"/>
<line x1="932" y1="161" x2="932" y2="198" stroke="#d23232" stroke-width="5"/>
<polygon fill="#d23232" points="932,211 924.5,197 939.5,197"/>
<text x="904" y="136.2" font-size="24">1.7 nm</text>
<line x1="1525" y1="441.5" x2="1525" y2="449.5" stroke="#000" stroke-width="2.6"/>
<line x1="1618.75" y1="441.5" x2="1618.75" y2="449.5" stroke="#000" stroke-width="2.6"/>
<line x1="1712.5" y1="441.5" x2="1712.5" y2="449.5" stroke="#000" stroke-width="2.6"/>
<line x1="1806.25" y1="441.5" x2="1806.25" y2="449.5" stroke="#000" stroke-width="2.6"/>
<line x1="1900" y1="441.5" x2="1900" y2="449.5" stroke="#000" stroke-width="2.6"/>
<line x1="1478.12" y1="441.5" x2="1478.12" y2="446" stroke="#000" stroke-width="2.2"/>
<line x1="1571.88" y1="441.5" x2="1571.88" y2="446" stroke="#000" stroke-width="2.2"/>
<line x1="1665.62" y1="441.5" x2="1665.62" y2="446" stroke="#000" stroke-width="2.2"/>
<line x1="1759.38" y1="441.5" x2="1759.38" y2="446" stroke="#000" stroke-width="2.2"/>
<line x1="1853.12" y1="441.5" x2="1853.12" y2="446" stroke="#000" stroke-width="2.2"/>
<line x1="1946.88" y1="441.5" x2="1946.88" y2="446" stroke="#000" stroke-width="2.2"/>
<line x1="1478.5" y1="441.5" x2="1470.5" y2="441.5" stroke="#000" stroke-width="2.6"/>
<line x1="1478.5" y1="333" x2="1470.5" y2="333" stroke="#000" stroke-width="2.6"/>
<line x1="1478.5" y1="224.5" x2="1470.5" y2="224.5" stroke="#000" stroke-width="2.6"/>
<line x1="1478.5" y1="116" x2="1470.5" y2="116" stroke="#000" stroke-width="2.6"/>
<line x1="1478.5" y1="387.25" x2="1474" y2="387.25" stroke="#000" stroke-width="2.2"/>
<line x1="1478.5" y1="278.75" x2="1474" y2="278.75" stroke="#000" stroke-width="2.2"/>
<line x1="1478.5" y1="170.25" x2="1474" y2="170.25" stroke="#000" stroke-width="2.2"/>
<line x1="1478.5" y1="61.75" x2="1474" y2="61.75" stroke="#000" stroke-width="2.2"/>
<rect x="1478.5" y="30" width="467.5" height="411.5" fill="none" stroke="#000" stroke-width="2.8"/>
<polyline fill="none" stroke="#000" stroke-width="3.3" stroke-linejoin="round" stroke-linecap="round" points="1525,181 1525.22,181.6 1525.45,182.19 1525.72,182.88 1526.05,183.76 1526.48,184.92 1527.02,186.45 1527.72,188.45 1528.6,191 1529.68,194.26 1530.96,198.19 1532.38,202.64 1533.93,207.44 1535.56,212.42 1537.24,217.41 1538.93,222.26 1540.6,226.8 1542.26,231.11 1543.96,235.4 1545.69,239.66 1547.46,243.88 1549.26,248.04 1551.1,252.16 1552.98,256.21 1554.9,260.2 1556.86,264.13 1558.85,268.01 1560.89,271.85 1562.96,275.62 1565.06,279.33 1567.21,282.96 1569.39,286.52 1571.6,290 1573.86,293.4 1576.19,296.72 1578.55,299.97 1580.95,303.15 1583.37,306.25 1585.79,309.28 1588.2,312.23 1590.6,315.1 1593.05,317.94 1595.6,320.78 1598.19,323.56 1600.77,326.26 1603.27,328.82 1605.63,331.21 1607.79,333.38 1609.7,335.3 1611.28,336.9 1612.54,338.19 1613.59,339.24 1614.52,340.13 1615.41,340.93 1616.36,341.71 1617.46,342.54 1618.8,343.5 1620.35,344.54 1622,345.58 1623.74,346.62 1625.57,347.66 1627.48,348.72 1629.46,349.79 1631.51,350.88 1633.6,352 1635.75,353.16 1637.96,354.35 1640.24,355.58 1642.59,356.81 1645,358.05 1647.49,359.27 1650.06,360.45 1652.7,361.6 1655.43,362.72 1658.26,363.82 1661.17,364.91 1664.15,365.98 1667.19,367.01 1670.26,368.02 1673.37,368.98 1676.5,369.9 1679.7,370.78 1683.01,371.63 1686.39,372.45 1689.8,373.24 1693.19,373.98 1696.51,374.67 1699.73,375.31 1702.8,375.9 1705.62,376.41 1708.19,376.83 1710.61,377.19 1712.99,377.51 1715.43,377.81 1718.04,378.11 1720.93,378.43 1724.2,378.8 1727.87,379.21 1731.85,379.64 1736.08,380.09 1740.49,380.54 1745.03,380.99 1749.61,381.42 1754.19,381.83 1758.7,382.2 1763.28,382.54 1768.06,382.88 1772.94,383.19 1777.83,383.49 1782.61,383.76 1787.2,384 1791.5,384.22 1795.4,384.4 1798.81,384.53 1801.78,384.62 1804.44,384.67 1806.91,384.69 1809.33,384.71 1811.81,384.72 1814.49,384.75 1817.5,384.8 1820.66,384.88 1823.77,384.96 1826.94,385.06 1830.24,385.16 1833.79,385.25 1837.67,385.35 1841.97,385.43 1846.8,385.5 1852.62,385.56 1859.54,385.61 1867.13,385.65 1874.93,385.69 1882.5,385.73 1889.4,385.76 1895.18,385.78 1899.4,385.8"/>
<line x1="1525" y1="239.9" x2="1525" y2="122" stroke="#000" stroke-width="3.3"/>
<line x1="1518.8" y1="239.9" x2="1531.2" y2="239.9" stroke="#000" stroke-width="3.3" stroke-linecap="round"/>
<line x1="1518.8" y1="122" x2="1531.2" y2="122" stroke="#000" stroke-width="3.3" stroke-linecap="round"/>
<rect x="1514.9" y="170.9" width="20.2" height="20.2" fill="#000" rx="1"/>
<line x1="1618.8" y1="395.7" x2="1618.8" y2="308.4" stroke="#000" stroke-width="3.3"/>
<line x1="1612.6" y1="395.7" x2="1625" y2="395.7" stroke="#000" stroke-width="3.3" stroke-linecap="round"/>
<line x1="1612.6" y1="308.4" x2="1625" y2="308.4" stroke="#000" stroke-width="3.3" stroke-linecap="round"/>
<rect x="1608.7" y="341.5" width="20.2" height="20.2" fill="#000" rx="1"/>
<line x1="1712.6" y1="387.3" x2="1712.6" y2="365.5" stroke="#000" stroke-width="3.3"/>
<line x1="1706.4" y1="387.3" x2="1718.8" y2="387.3" stroke="#000" stroke-width="3.3" stroke-linecap="round"/>
<line x1="1706.4" y1="365.5" x2="1718.8" y2="365.5" stroke="#000" stroke-width="3.3" stroke-linecap="round"/>
<rect x="1702.5" y="366.3" width="20.2" height="20.2" fill="#000" rx="1"/>
<line x1="1805.4" y1="410.9" x2="1805.4" y2="354" stroke="#000" stroke-width="3.3"/>
<line x1="1799.2" y1="410.9" x2="1811.6" y2="410.9" stroke="#000" stroke-width="3.3" stroke-linecap="round"/>
<line x1="1799.2" y1="354" x2="1811.6" y2="354" stroke="#000" stroke-width="3.3" stroke-linecap="round"/>
<rect x="1795.3" y="372.4" width="20.2" height="20.2" fill="#000" rx="1"/>
<line x1="1899.4" y1="401.3" x2="1899.4" y2="374.4" stroke="#000" stroke-width="3.3"/>
<line x1="1893.2" y1="401.3" x2="1905.6" y2="401.3" stroke="#000" stroke-width="3.3" stroke-linecap="round"/>
<line x1="1893.2" y1="374.4" x2="1905.6" y2="374.4" stroke="#000" stroke-width="3.3" stroke-linecap="round"/>
<rect x="1889.3" y="378" width="20.2" height="20.2" fill="#000" rx="1"/>
<text x="1441" y="28.8" font-size="28.5">c)</text>
<text x="1465.8" y="449" font-size="24.3" text-anchor="end">0.0</text>
<text x="1465.8" y="338.8" font-size="24.3" text-anchor="end">0.5</text>
<text x="1465.8" y="232.5" font-size="24.3" text-anchor="end">1.0</text>
<text x="1465.8" y="124" font-size="24.3" text-anchor="end">1.5</text>
<text x="1524.5" y="470.3" font-size="24" text-anchor="middle">1</text>
<text x="1618.25" y="470.3" font-size="24" text-anchor="middle">2</text>
<text x="1712" y="470.3" font-size="24" text-anchor="middle">3</text>
<text x="1805.75" y="470.3" font-size="24" text-anchor="middle">4</text>
<text x="1899.5" y="470.3" font-size="24" text-anchor="middle">5</text>
<text x="1721.5" y="495" font-size="24" text-anchor="middle">Molecular layers</text>
<text transform="translate(1413.4 334.5) rotate(-90)" font-size="24">Mobility (cm<tspan font-size="14" dy="-9">2</tspan><tspan dy="9" font-size="1">&#8203;</tspan>V<tspan font-size="14" dy="-9">-1</tspan><tspan dy="9" font-size="1">&#8203;</tspan>s<tspan font-size="14" dy="-9">-1</tspan><tspan dy="9" font-size="1">&#8203;</tspan>)</text>
<rect x="1719" y="58" width="81" height="28" fill="#e2d41e"/>
<text x="1699.5" y="132.5" font-size="24">3L</text>
<text x="1699.5" y="217" font-size="24">2L</text>
<text x="1699.5" y="303" font-size="24">1L</text>
<line x1="802.4" y1="1024.3" x2="802.4" y2="1016.3" stroke="#000" stroke-width="2.8"/>
<line x1="802.4" y1="611.6" x2="802.4" y2="619.6" stroke="#000" stroke-width="2.8"/>
<line x1="910.4" y1="1024.3" x2="910.4" y2="1016.3" stroke="#000" stroke-width="2.8"/>
<line x1="910.4" y1="611.6" x2="910.4" y2="619.6" stroke="#000" stroke-width="2.8"/>
<line x1="1018.4" y1="1024.3" x2="1018.4" y2="1016.3" stroke="#000" stroke-width="2.8"/>
<line x1="1018.4" y1="611.6" x2="1018.4" y2="619.6" stroke="#000" stroke-width="2.8"/>
<line x1="1126.4" y1="1024.3" x2="1126.4" y2="1016.3" stroke="#000" stroke-width="2.8"/>
<line x1="1126.4" y1="611.6" x2="1126.4" y2="619.6" stroke="#000" stroke-width="2.8"/>
<line x1="1234.4" y1="1024.3" x2="1234.4" y2="1016.3" stroke="#000" stroke-width="2.8"/>
<line x1="1234.4" y1="611.6" x2="1234.4" y2="619.6" stroke="#000" stroke-width="2.8"/>
<line x1="856.4" y1="1024.3" x2="856.4" y2="1019.8" stroke="#000" stroke-width="2.4"/>
<line x1="856.4" y1="611.6" x2="856.4" y2="616.1" stroke="#000" stroke-width="2.4"/>
<line x1="964.4" y1="1024.3" x2="964.4" y2="1019.8" stroke="#000" stroke-width="2.4"/>
<line x1="964.4" y1="611.6" x2="964.4" y2="616.1" stroke="#000" stroke-width="2.4"/>
<line x1="1072.4" y1="1024.3" x2="1072.4" y2="1019.8" stroke="#000" stroke-width="2.4"/>
<line x1="1072.4" y1="611.6" x2="1072.4" y2="616.1" stroke="#000" stroke-width="2.4"/>
<line x1="1180.4" y1="1024.3" x2="1180.4" y2="1019.8" stroke="#000" stroke-width="2.4"/>
<line x1="1180.4" y1="611.6" x2="1180.4" y2="616.1" stroke="#000" stroke-width="2.4"/>
<line x1="784" y1="1018.99" x2="788" y2="1018.99" stroke="#000" stroke-width="2.2"/>
<line x1="784" y1="1014.62" x2="788" y2="1014.62" stroke="#000" stroke-width="2.2"/>
<line x1="784" y1="1010.83" x2="788" y2="1010.83" stroke="#000" stroke-width="2.2"/>
<line x1="784" y1="1007.49" x2="788" y2="1007.49" stroke="#000" stroke-width="2.2"/>
<line x1="784" y1="1004.5" x2="791.5" y2="1004.5" stroke="#000" stroke-width="2.6"/>
<line x1="784" y1="984.84" x2="788" y2="984.84" stroke="#000" stroke-width="2.2"/>
<line x1="784" y1="973.34" x2="788" y2="973.34" stroke="#000" stroke-width="2.2"/>
<line x1="784" y1="965.19" x2="788" y2="965.19" stroke="#000" stroke-width="2.2"/>
<line x1="784" y1="958.86" x2="788" y2="958.86" stroke="#000" stroke-width="2.2"/>
<line x1="784" y1="953.69" x2="788" y2="953.69" stroke="#000" stroke-width="2.2"/>
<line x1="784" y1="949.32" x2="788" y2="949.32" stroke="#000" stroke-width="2.2"/>
<line x1="784" y1="945.53" x2="788" y2="945.53" stroke="#000" stroke-width="2.2"/>
<line x1="784" y1="942.19" x2="788" y2="942.19" stroke="#000" stroke-width="2.2"/>
<line x1="784" y1="939.2" x2="791.5" y2="939.2" stroke="#000" stroke-width="2.6"/>
<line x1="784" y1="919.54" x2="788" y2="919.54" stroke="#000" stroke-width="2.2"/>
<line x1="784" y1="908.04" x2="788" y2="908.04" stroke="#000" stroke-width="2.2"/>
<line x1="784" y1="899.89" x2="788" y2="899.89" stroke="#000" stroke-width="2.2"/>
<line x1="784" y1="893.56" x2="788" y2="893.56" stroke="#000" stroke-width="2.2"/>
<line x1="784" y1="888.39" x2="788" y2="888.39" stroke="#000" stroke-width="2.2"/>
<line x1="784" y1="884.02" x2="788" y2="884.02" stroke="#000" stroke-width="2.2"/>
<line x1="784" y1="880.23" x2="788" y2="880.23" stroke="#000" stroke-width="2.2"/>
<line x1="784" y1="876.89" x2="788" y2="876.89" stroke="#000" stroke-width="2.2"/>
<line x1="784" y1="873.9" x2="791.5" y2="873.9" stroke="#000" stroke-width="2.6"/>
<line x1="784" y1="854.24" x2="788" y2="854.24" stroke="#000" stroke-width="2.2"/>
<line x1="784" y1="842.74" x2="788" y2="842.74" stroke="#000" stroke-width="2.2"/>
<line x1="784" y1="834.59" x2="788" y2="834.59" stroke="#000" stroke-width="2.2"/>
<line x1="784" y1="828.26" x2="788" y2="828.26" stroke="#000" stroke-width="2.2"/>
<line x1="784" y1="823.09" x2="788" y2="823.09" stroke="#000" stroke-width="2.2"/>
<line x1="784" y1="818.72" x2="788" y2="818.72" stroke="#000" stroke-width="2.2"/>
<line x1="784" y1="814.93" x2="788" y2="814.93" stroke="#000" stroke-width="2.2"/>
<line x1="784" y1="811.59" x2="788" y2="811.59" stroke="#000" stroke-width="2.2"/>
<line x1="784" y1="808.6" x2="791.5" y2="808.6" stroke="#000" stroke-width="2.6"/>
<line x1="784" y1="788.94" x2="788" y2="788.94" stroke="#000" stroke-width="2.2"/>
<line x1="784" y1="777.44" x2="788" y2="777.44" stroke="#000" stroke-width="2.2"/>
<line x1="784" y1="769.29" x2="788" y2="769.29" stroke="#000" stroke-width="2.2"/>
<line x1="784" y1="762.96" x2="788" y2="762.96" stroke="#000" stroke-width="2.2"/>
<line x1="784" y1="757.79" x2="788" y2="757.79" stroke="#000" stroke-width="2.2"/>
<line x1="784" y1="753.42" x2="788" y2="753.42" stroke="#000" stroke-width="2.2"/>
<line x1="784" y1="749.63" x2="788" y2="749.63" stroke="#000" stroke-width="2.2"/>
<line x1="784" y1="746.29" x2="788" y2="746.29" stroke="#000" stroke-width="2.2"/>
<line x1="784" y1="743.3" x2="791.5" y2="743.3" stroke="#000" stroke-width="2.6"/>
<line x1="784" y1="723.64" x2="788" y2="723.64" stroke="#000" stroke-width="2.2"/>
<line x1="784" y1="712.14" x2="788" y2="712.14" stroke="#000" stroke-width="2.2"/>
<line x1="784" y1="703.99" x2="788" y2="703.99" stroke="#000" stroke-width="2.2"/>
<line x1="784" y1="697.66" x2="788" y2="697.66" stroke="#000" stroke-width="2.2"/>
<line x1="784" y1="692.49" x2="788" y2="692.49" stroke="#000" stroke-width="2.2"/>
<line x1="784" y1="688.12" x2="788" y2="688.12" stroke="#000" stroke-width="2.2"/>
<line x1="784" y1="684.33" x2="788" y2="684.33" stroke="#000" stroke-width="2.2"/>
<line x1="784" y1="680.99" x2="788" y2="680.99" stroke="#000" stroke-width="2.2"/>
<line x1="784" y1="678" x2="791.5" y2="678" stroke="#000" stroke-width="2.6"/>
<line x1="784" y1="658.34" x2="788" y2="658.34" stroke="#000" stroke-width="2.2"/>
<line x1="784" y1="646.84" x2="788" y2="646.84" stroke="#000" stroke-width="2.2"/>
<line x1="784" y1="638.69" x2="788" y2="638.69" stroke="#000" stroke-width="2.2"/>
<line x1="784" y1="632.36" x2="788" y2="632.36" stroke="#000" stroke-width="2.2"/>
<line x1="784" y1="627.19" x2="788" y2="627.19" stroke="#000" stroke-width="2.2"/>
<line x1="784" y1="622.82" x2="788" y2="622.82" stroke="#000" stroke-width="2.2"/>
<line x1="784" y1="619.03" x2="788" y2="619.03" stroke="#000" stroke-width="2.2"/>
<line x1="784" y1="615.69" x2="788" y2="615.69" stroke="#000" stroke-width="2.2"/>
<line x1="784" y1="612.7" x2="791.5" y2="612.7" stroke="#000" stroke-width="2.6"/>
<line x1="1253.2" y1="1015.3" x2="1261.7" y2="1015.3" stroke="#0000f0" stroke-width="2.8"/>
<line x1="1253.2" y1="854" x2="1261.7" y2="854" stroke="#0000f0" stroke-width="2.8"/>
<line x1="1253.2" y1="692.7" x2="1261.7" y2="692.7" stroke="#0000f0" stroke-width="2.8"/>
<line x1="1253.2" y1="934.65" x2="1257.7" y2="934.65" stroke="#0000f0" stroke-width="2.4"/>
<line x1="1253.2" y1="773.35" x2="1257.7" y2="773.35" stroke="#0000f0" stroke-width="2.4"/>
<line x1="1253.2" y1="612.05" x2="1257.7" y2="612.05" stroke="#0000f0" stroke-width="2.4"/>
<polyline fill="none" stroke="#000" stroke-width="3" stroke-linejoin="miter" points="784,1025.7 784,611.6 1253.2,611.6"/>
<line x1="782.6" y1="1024.3" x2="1254.6" y2="1024.3" stroke="#000" stroke-width="3"/>
<line x1="1253.2" y1="610.1" x2="1253.2" y2="1025.7" stroke="#0000f0" stroke-width="3"/>
<polyline fill="none" stroke="#000" stroke-width="3.6" stroke-linejoin="round" stroke-linecap="round" points="802.1,630.5 806.95,632.33 811.84,634.27 816.68,636.31 821.47,638.45 826.21,640.68 830.9,643.01 835.54,645.44 840.12,647.96 844.65,650.57 849.12,653.27 853.53,656.06 857.89,658.93 862.19,661.89 866.43,664.94 870.61,668.06 874.73,671.27 878.79,674.56 882.78,677.92 886.71,681.36 890.57,684.87 894.36,688.46 898.09,692.12 901.75,695.85 905.34,699.64 908.86,703.5 912.3,707.43 915.68,711.42 918.98,715.48 922.21,719.59 925.36,723.76 928.43,727.99 931.43,732.28 934.34,736.62 937.18,741.01 939.94,745.46 942.61,749.95 945.21,754.49 947.71,759.08 950.14,763.72 952.48,768.39 954.73,773.11 956.89,777.87 958.97,782.67 960.95,787.51 962.85,792.38 964.65,797.28 966.36,802.22 967.98,807.19 970,812 975.5,826.2 985,869.1 997.5,900.1 1000.6,919.2 1006.5,962.1 1018,1009.8 1029.3,1005 1039.5,991.5 1049,977 1061,962.1 1063.74,956.84 1066.15,951.62 1068.56,946.39 1070.97,941.15 1073.37,935.9 1075.78,930.65 1078.18,925.38 1080.59,920.11 1083,914.84 1085.42,909.56 1087.84,904.28 1090.28,899 1092.72,893.72 1095.17,888.44 1097.64,883.16 1100.12,877.88 1102.62,872.61 1105.13,867.34 1107.67,862.08 1110.22,856.82 1112.79,851.57 1115.38,846.33 1117.99,841.1 1120.62,835.88 1123.27,830.67 1125.94,825.47 1128.63,820.29 1131.34,815.13 1134.08,809.97 1136.84,804.84 1139.62,799.72 1142.42,794.63 1145.24,789.55 1148.09,784.49 1150.97,779.46 1153.88,774.44 1156.82,769.46 1159.79,764.49 1162.8,759.56 1165.85,754.65 1168.94,749.77 1172.07,744.92 1175.25,740.09 1178.47,735.3 1181.75,730.55 1185.07,725.82 1188.46,721.13 1191.9,716.47 1195.39,711.86 1198.95,707.27 1202.57,702.73 1206.26,698.23 1210.02,693.77 1213.84,689.34 1217.74,684.96 1221.72,680.63 1225.77,676.34 1229.9,672.09 1234.1,668.2"/>
<polyline fill="none" stroke="#0000f0" stroke-width="3.6" stroke-linejoin="round" stroke-linecap="round" points="802.1,643.9 804.91,649.53 807.34,655.5 809.7,661.47 812.01,667.44 814.26,673.4 816.46,679.37 818.62,685.33 820.75,691.29 822.84,697.25 824.91,703.2 826.96,709.16 828.99,715.11 831.01,721.05 833.03,727 835.04,732.94 837.07,738.87 839.1,744.8 841.15,750.73 843.23,756.65 845.33,762.57 847.46,768.48 849.63,774.39 851.85,780.3 854.11,786.19 856.42,792.08 858.78,797.97 861.18,803.85 863.61,809.72 866.07,815.59 868.57,821.45 871.09,827.3 873.63,833.14 876.18,838.98 878.76,844.81 881.34,850.63 883.92,856.45 886.51,862.25 889.1,868.05 891.68,873.84 894.25,879.62 896.83,885.39 899.4,891.15 902,896.9 904.61,902.64 907.26,908.37 909.94,914.09 912.67,919.8 915.46,925.49 918.32,931.14 921.25,936.75 924.28,942.31 927.41,947.81 930.65,953.24 934.02,958.6 937.52,963.86 941.16,969.03 944.95,974.1 948.92,979.05 953.06,983.87 957.38,988.55 961.91,993.01 966.64,997.22 971.59,1001.11 976.77,1004.63 982.2,1007.74 987.87,1010.37 993.81,1012.47 1000.02,1014 1006.5,1014.6 1014.23,1014.84 1021.98,1015.08 1029.73,1015.28 1037.48,1015.42 1045.23,1015.46 1052.98,1015.36 1060.72,1015.1 1068.44,1014.64 1076.15,1013.94 1083.84,1012.97 1091.5,1011.7 1095.74,1010.91 1100.17,1010.25 1104.54,1009.53 1108.85,1008.74 1113.08,1007.85 1117.24,1006.85 1121.32,1005.71 1125.32,1004.41 1129.23,1002.94 1133.06,1001.28 1136.79,999.41 1140.42,997.32 1143.96,995.04 1147.41,992.58 1150.76,989.96 1154.02,987.18 1157.18,984.28 1160.25,981.25 1163.23,978.12 1166.11,974.91 1168.89,971.62 1171.58,968.28 1174.19,964.88 1176.7,961.43 1179.13,957.94 1181.48,954.39 1183.76,950.8 1185.96,947.17 1188.1,943.49 1190.17,939.78 1192.18,936.02 1194.13,932.24 1196.03,928.42 1197.87,924.56 1199.67,920.68 1201.43,916.77 1203.15,912.84 1204.84,908.88 1206.49,904.9 1208.11,900.91 1209.71,896.89 1211.29,892.86 1212.84,888.82 1214.36,884.76 1215.87,880.7 1217.34,876.63 1218.79,872.55 1220.22,868.47 1221.62,864.39 1223,860.31 1224.34,856.23 1225.67,852.15 1226.96,848.09 1228.23,844.03 1229.47,839.98 1230.68,835.95 1231.87,831.93 1233.03,827.93 1234.1,823.8"/>
<text x="736" y="608.3" font-size="29">e)</text>
<text x="736.6" y="688.6" font-size="23.5">10<tspan font-size="13.6" dy="-9">0</tspan><tspan dy="9" font-size="1">&#8203;</tspan></text>
<text x="736.6" y="818.2" font-size="23.5">10<tspan font-size="13.6" dy="-9">-2</tspan><tspan dy="9" font-size="1">&#8203;</tspan></text>
<text x="736.6" y="949" font-size="23.5">10<tspan font-size="13.6" dy="-9">-4</tspan><tspan dy="9" font-size="1">&#8203;</tspan></text>
<text x="800.9" y="1057" font-size="23.5" text-anchor="middle">-60</text>
<text x="908.9" y="1057" font-size="23.5" text-anchor="middle">-30</text>
<text x="1016.9" y="1057" font-size="23.5" text-anchor="middle">0</text>
<text x="1124.9" y="1057" font-size="23.5" text-anchor="middle">30</text>
<text x="1232.9" y="1057" font-size="23.5" text-anchor="middle">60</text>
<text x="983.5" y="1081" font-size="24"><tspan font-style="italic">V</tspan><tspan font-size="13.6" dy="7.5">G</tspan><tspan dy="-7.5" font-size="1">&#8203;</tspan> (V)</text>
<text transform="translate(714.7 840) rotate(-90)" font-size="24">|<tspan font-style="italic">I</tspan><tspan font-size="13.6" dy="7.5">D</tspan><tspan dy="-7.5" font-size="1">&#8203;</tspan>|(µA)</text>
<text x="1264.8" y="1023.3" font-size="23.5" fill="#0000f0">0</text>
<text x="1264.8" y="862.3" font-size="23.5" fill="#0000f0">1</text>
<text x="1264.8" y="700.8" font-size="23.5" fill="#0000f0">2</text>
<text transform="translate(1303.4 859.5) rotate(-90)" font-size="24" fill="#0000f0">(-<tspan font-style="italic">I</tspan><tspan font-size="13.6" dy="7.5">D</tspan><tspan dy="-7.5" font-size="1">&#8203;</tspan>)<tspan font-size="14.5" dy="-9.5">1/2</tspan><tspan dy="9.5" font-size="1">&#8203;</tspan> (µA)<tspan font-size="14.5" dy="-9.5">1/2</tspan><tspan dy="9.5" font-size="1">&#8203;</tspan></text>
<line x1="1478" y1="1020.4" x2="1478" y2="1012.4" stroke="#000" stroke-width="2.6"/>
<line x1="1478" y1="609" x2="1478" y2="617" stroke="#000" stroke-width="2.6"/>
<line x1="1633.83" y1="1020.4" x2="1633.83" y2="1012.4" stroke="#000" stroke-width="2.6"/>
<line x1="1633.83" y1="609" x2="1633.83" y2="617" stroke="#000" stroke-width="2.6"/>
<line x1="1789.66" y1="1020.4" x2="1789.66" y2="1012.4" stroke="#000" stroke-width="2.6"/>
<line x1="1789.66" y1="609" x2="1789.66" y2="617" stroke="#000" stroke-width="2.6"/>
<line x1="1945.49" y1="1020.4" x2="1945.49" y2="1012.4" stroke="#000" stroke-width="2.6"/>
<line x1="1945.49" y1="609" x2="1945.49" y2="617" stroke="#000" stroke-width="2.6"/>
<line x1="1555.91" y1="1020.4" x2="1555.91" y2="1015.9" stroke="#000" stroke-width="2.2"/>
<line x1="1555.91" y1="609" x2="1555.91" y2="613.5" stroke="#000" stroke-width="2.2"/>
<line x1="1711.74" y1="1020.4" x2="1711.74" y2="1015.9" stroke="#000" stroke-width="2.2"/>
<line x1="1711.74" y1="609" x2="1711.74" y2="613.5" stroke="#000" stroke-width="2.2"/>
<line x1="1867.58" y1="1020.4" x2="1867.58" y2="1015.9" stroke="#000" stroke-width="2.2"/>
<line x1="1867.58" y1="609" x2="1867.58" y2="613.5" stroke="#000" stroke-width="2.2"/>
<line x1="1478" y1="639.5" x2="1486" y2="639.5" stroke="#000" stroke-width="2.6"/>
<line x1="1478" y1="766.3" x2="1486" y2="766.3" stroke="#000" stroke-width="2.6"/>
<line x1="1478" y1="893.1" x2="1486" y2="893.1" stroke="#000" stroke-width="2.6"/>
<line x1="1478" y1="1019.9" x2="1486" y2="1019.9" stroke="#000" stroke-width="2.6"/>
<line x1="1478" y1="702.9" x2="1482.5" y2="702.9" stroke="#000" stroke-width="2.2"/>
<line x1="1478" y1="829.7" x2="1482.5" y2="829.7" stroke="#000" stroke-width="2.2"/>
<line x1="1478" y1="956.5" x2="1482.5" y2="956.5" stroke="#000" stroke-width="2.2"/>
<line x1="1944.6" y1="1018" x2="1953.1" y2="1018" stroke="#0000f0" stroke-width="2.8"/>
<line x1="1944.6" y1="853" x2="1953.1" y2="853" stroke="#0000f0" stroke-width="2.8"/>
<line x1="1944.6" y1="688" x2="1953.1" y2="688" stroke="#0000f0" stroke-width="2.8"/>
<line x1="1944.6" y1="935.5" x2="1949.1" y2="935.5" stroke="#0000f0" stroke-width="2.4"/>
<line x1="1944.6" y1="770.5" x2="1949.1" y2="770.5" stroke="#0000f0" stroke-width="2.4"/>
<polyline fill="none" stroke="#000" stroke-width="3" stroke-linejoin="miter" points="1478,1021.8 1478,609 1944.6,609"/>
<line x1="1476.6" y1="1020.4" x2="1946" y2="1020.4" stroke="#000" stroke-width="3"/>
<line x1="1944.6" y1="607.5" x2="1944.6" y2="1021.8" stroke="#0000f0" stroke-width="3"/>
<polyline fill="none" stroke="#000" stroke-width="3.4" stroke-linejoin="round" stroke-linecap="round" points="1478,716 1510,716.5 1555,720 1600,725 1630,731 1650,734 1680,735.5 1695,741 1711.5,755.25 1727,768.5 1735,815 1742.5,855 1750,895 1758.5,937.5 1775,941 1790,965 1805,963 1820,975 1835,975 1852.5,985 1867.5,982.5 1882.5,991 1898.5,982.5 1915,990.5 1930,990 1945.5,996"/>
<polyline fill="none" stroke="#0000f0" stroke-width="3.4" stroke-linejoin="round" stroke-linecap="round" points="1478,1018.5 1510,1014 1555,1009 1580,1010 1600,1007.5 1617.5,1003.5 1632.5,1004 1650,1011 1664,1012.5 1680,1001 1695,977.5 1710,956.5 1726,765 1741.5,652.5 1758.5,850 1773.5,956.5 1790,970 1805,993.5 1820,988.5 1835,995 1850,1002.5 1866,1002.5 1882.5,1017.5 1897.5,1017.5 1914,999 1930,1003.5 1945.5,1015"/>
<text x="1431.5" y="609.3" font-size="29">f)</text>
<text x="1465.8" y="648.1" font-size="24" text-anchor="end">0</text>
<text x="1465.8" y="774.9" font-size="24" text-anchor="end">-20</text>
<text x="1465.8" y="901.7" font-size="24" text-anchor="end">-40</text>
<text x="1465.8" y="1030.4" font-size="24" text-anchor="end">-60</text>
<text x="1479.1" y="1055.8" font-size="24" text-anchor="middle">-50</text>
<text x="1632.03" y="1055.8" font-size="24" text-anchor="middle">-40</text>
<text x="1788.16" y="1055.8" font-size="24" text-anchor="middle">-30</text>
<text x="1943.99" y="1055.8" font-size="24" text-anchor="middle">-20</text>
<text x="1689" y="1082.8" font-size="24"><tspan font-style="italic">V</tspan><tspan font-size="13.6" dy="7.5">in</tspan><tspan dy="-7.5" font-size="1">&#8203;</tspan> (V)</text>
<text transform="translate(1415.5 838.5) rotate(-90)" font-size="24"><tspan font-style="italic">V</tspan><tspan font-size="13.6" dy="7.5">out</tspan><tspan dy="-7.5" font-size="1">&#8203;</tspan> (V)</text>
<text x="1960" y="1024.9" font-size="24" fill="#0000f0">0</text>
<text x="1960" y="860.1" font-size="24" fill="#0000f0">6</text>
<text x="1960" y="695.8" font-size="24" fill="#0000f0">12</text>
<text transform="translate(2002.5 840) rotate(-90)" font-size="24" fill="#0000f0">Gain</text>
<text x="1787.5" y="661.3" font-size="24"><tspan font-style="italic">V</tspan><tspan font-size="13.6" dy="7.5">DD</tspan><tspan dy="-7.5" font-size="1">&#8203;</tspan> = -60 V</text>
<polygon fill="#2d86c8" stroke="#2d86c8" stroke-width="0.8" stroke-linejoin="round" points="109.26,669.35 171.86,640.46 429.37,642 366.96,669.93"/>
<polygon fill="#22679a" stroke="#22679a" stroke-width="0.8" stroke-linejoin="round" points="109.26,669.35 366.96,669.93 368.31,708.45 110.61,708.45"/>
<polygon fill="#2a7cbc" stroke="#2a7cbc" stroke-width="0.8" stroke-linejoin="round" points="366.96,669.93 429.37,642 430.91,679.56 368.31,708.45"/>
<polygon fill="#8b9cb1" stroke="#8b9cb1" stroke-width="0.8" stroke-linejoin="round" points="110.61,708.26 368.31,708.26 369.66,748.9 111.76,748.32"/>
<polygon fill="#a5bcd7" stroke="#a5bcd7" stroke-width="0.8" stroke-linejoin="round" points="368.31,708.26 430.91,679.37 432.45,719.43 369.66,748.9"/>
<polygon fill="#b08c5f" stroke="#b08c5f" stroke-width="0.8" stroke-linejoin="round" points="111.76,748.13 369.66,748.71 370.82,788 113.11,787.23"/>
<polygon fill="#d3a872" stroke="#d3a872" stroke-width="0.8" stroke-linejoin="round" points="369.66,748.71 432.45,719.24 433.8,757.95 370.82,788"/>
<polygon fill="#e1c361" fill-opacity="0.97" points="174.75,636.22 237.34,606.18 237.92,640.46 176.09,669.35"/>
<polygon fill="#f1d777" stroke="#f1d777" stroke-width="0.8" stroke-linejoin="round" points="108.3,635.65 170.89,605.79 237.34,606.18 174.75,636.22"/>
<polygon fill="#c0a64d" fill-opacity="0.875" points="108.3,635.65 174.75,636.22 176.09,669.35 109.26,669.35"/>
<polygon fill="#e1c361" fill-opacity="0.97" points="365.81,636.61 428.98,607.33 429.37,642 366.96,669.93"/>
<polygon fill="#f1d777" stroke="#f1d777" stroke-width="0.8" stroke-linejoin="round" points="299.94,636.22 362.53,606.95 428.98,607.33 365.81,636.61"/>
<polygon fill="#c0a64d" fill-opacity="0.875" points="299.94,636.22 365.81,636.61 366.96,669.93 299.94,669.35"/>
<text x="125.63" y="661.26" font-size="24">Au</text>
<text x="319.78" y="661.26" font-size="24">Au</text>
<text x="235.8" y="700.75" font-size="24" text-anchor="middle">N</text>
<text x="235.8" y="735.42" font-size="24" text-anchor="middle">P</text>
<text x="234.07" y="780.29" font-size="24" text-anchor="middle">PMMA</text>
<path d="M235 673.4A27.6 39.3 0 1 1 234.95 673.4Z" fill="none" stroke="#0c0c0c" stroke-width="3.3" pathLength="214" stroke-dasharray="15.2 11.55" stroke-dashoffset="-2.5"/>
<polygon fill="#2d86c8" stroke="#2d86c8" stroke-width="0.8" stroke-linejoin="round" points="106.95,912.24 169.35,882.97 427.06,883.54 364.46,912.82"/>
<polygon fill="#22679a" stroke="#22679a" stroke-width="0.8" stroke-linejoin="round" points="106.95,912.24 364.46,912.82 365.81,951.73 108.3,951.34"/>
<polygon fill="#2a7cbc" stroke="#2a7cbc" stroke-width="0.8" stroke-linejoin="round" points="364.46,912.82 427.06,883.54 428.6,922.45 365.81,951.73"/>
<polygon fill="#8b9cb1" stroke="#8b9cb1" stroke-width="0.8" stroke-linejoin="round" points="108.3,951.15 365.81,951.53 366.96,990.82 109.65,990.44"/>
<polygon fill="#a5bcd7" stroke="#a5bcd7" stroke-width="0.8" stroke-linejoin="round" points="365.81,951.53 428.6,922.26 429.56,962.51 366.96,990.82"/>
<polygon fill="#b08c5f" stroke="#b08c5f" stroke-width="0.8" stroke-linejoin="round" points="109.65,990.25 366.96,990.63 368.31,1029.92 110.8,1029.35"/>
<polygon fill="#d3a872" stroke="#d3a872" stroke-width="0.8" stroke-linejoin="round" points="366.96,990.63 429.56,962.32 430.91,1000.45 368.31,1029.92"/>
<polygon fill="#e1c361" fill-opacity="0.97" points="162.8,877.77 225.4,847.91 225.98,882 163.77,912.05"/>
<polygon fill="#f1d777" stroke="#f1d777" stroke-width="0.8" stroke-linejoin="round" points="105.79,877.77 168.97,847.91 225.4,847.91 162.8,877.77"/>
<polygon fill="#c0a64d" fill-opacity="0.875" points="105.79,877.77 162.8,877.77 163.77,912.05 106.76,912.05"/>
<polygon fill="#e1c361" fill-opacity="0.97" points="261.42,877.77 324.59,847.53 325.17,882 262.38,912.05"/>
<polygon fill="#f1d777" stroke="#f1d777" stroke-width="0.8" stroke-linejoin="round" points="205.18,877.77 268.16,847.53 324.59,847.53 261.42,877.77"/>
<polygon fill="#c0a64d" fill-opacity="0.875" points="205.18,877.77 261.42,877.77 262.38,912.05 206.14,912.05"/>
<polygon fill="#e1c361" fill-opacity="0.97" points="363.11,879.31 426.09,849.26 426.67,883.54 364.08,912.82"/>
<polygon fill="#f1d777" stroke="#f1d777" stroke-width="0.8" stroke-linejoin="round" points="307.26,879.31 369.28,849.26 426.09,849.26 363.11,879.31"/>
<polygon fill="#c0a64d" fill-opacity="0.875" points="307.26,879.31 363.11,879.31 364.08,912.82 308.22,912.82"/>
<text x="120.43" y="903.19" font-size="24">Au</text>
<text x="220.2" y="903.19" font-size="24">Au</text>
<text x="319.78" y="903.19" font-size="24">Au</text>
<text x="236.38" y="944.6" font-size="24" text-anchor="middle">N</text>
<text x="235.8" y="978.31" font-size="24" text-anchor="middle">P</text>
<text x="234.07" y="1018.75" font-size="24" text-anchor="middle">PMMA</text>
<line x1="238" y1="673" x2="499" y2="593" stroke="#3c3c3c" stroke-width="1.5" stroke-dasharray="7.4 3.2" stroke-opacity="0.85"/>
<line x1="235" y1="755" x2="559" y2="1038" stroke="#3c3c3c" stroke-width="1.5" stroke-dasharray="7.4 3.2" stroke-opacity="0.85"/>
<text x="18" y="607.6" font-size="28.8">d)</text>
<path d="M568.56 783.4L576.54 787.93M568.56 783.4L566.44 789.79M568.56 783.4L575.21 794.57M568.56 783.4L565.9 796.7M568.56 783.4L573.88 801.22M576.54 787.93L566.44 789.79M576.54 787.93L575.21 794.57M576.54 787.93L565.9 796.7M576.54 787.93L573.88 801.22M566.44 789.79L575.21 794.57M566.44 789.79L565.9 796.7M566.44 789.79L573.88 801.22M575.21 794.57L565.9 796.7M575.21 794.57L573.88 801.22M565.9 796.7L573.88 801.22M573.88 801.22L581.33 815.85M581.33 815.85L595.16 816.65M581.33 815.85L573.88 828.62M595.16 816.65L601.81 829.68M573.88 828.62L581.33 841.65M601.81 829.68L594.63 842.45M581.33 841.65L594.63 842.45M594.63 842.45L601.81 856.54M601.81 856.54L617.23 858.4M601.81 856.54L593.83 868.24M617.23 858.4L624.41 871.17M593.83 868.24L601.01 881.81M624.41 871.17L615.64 883.14M601.01 881.81L615.64 883.14M601.01 881.81L592.5 893.78M615.64 883.14L622.55 896.44M592.5 893.78L599.15 907.07M622.55 896.44L614.31 908.94M599.15 907.07L614.31 908.94M599.15 907.07L591.17 919.04M614.31 908.94L620.96 922.23M591.17 919.04L598.35 932.34M620.96 922.23L613.24 933.67M598.35 932.34L613.24 933.67M613.24 933.67L620.43 947.77M620.43 947.77L631.6 953.35M620.43 947.77L615.64 956.28M631.6 953.35L637.71 966.12M615.64 956.28L622.29 968.78M637.71 966.12L633.19 974.1M622.29 968.78L633.19 974.1M633.19 974.1L640.37 988.72M640.37 988.72L628.94 1001.49M628.94 1001.49L619.89 1003.35M619.89 1003.35L608.46 1015.32M608.46 1015.32L598.62 1017.45M598.62 1017.45L587.18 1028.62M562.45 772.77L568.56 783.4M558.46 779.95L568.56 783.4M584.52 780.48L576.54 787.93M559.26 786.6L566.44 789.79M584.52 787.39L576.54 787.93M557.39 793.24L565.9 796.7M583.19 794.04L575.21 794.57M556.6 798.56L565.9 796.7M581.86 799.89L573.88 801.22M556.6 805.21L565.9 796.7M565.9 803.88L565.9 796.7M601.28 807.34L595.16 816.65M562.71 828.62L573.88 828.62M612.98 829.95L601.81 829.68M574.68 852.29L581.33 841.65M623.09 849.1L617.23 858.4M582.39 867.18L593.83 868.24M635.85 872.5L624.41 871.17M580.53 892.98L592.5 893.78M633.72 897.77L622.55 896.44M579.73 919.57L591.17 919.04M632.39 922.77L620.96 922.23M590.64 942.18L598.35 932.34M607.66 951.49L615.64 956.28M635.05 947.5L631.6 953.35M646.22 970.11L637.71 966.12M618.56 975.43L622.29 968.78M647.02 987.39L640.37 988.72M648.35 992.71L640.37 988.72M613.78 993.51L619.89 1003.35M635.05 1010L628.94 1001.49M623.09 996.7L619.89 1003.35M593.03 1007.34L598.62 1017.45M615.11 1024.63L608.46 1015.32M603.14 1010L608.46 1015.32M579.2 1025.96L587.18 1028.62M580.53 1031.28L587.18 1028.62M592.5 1039.26L587.18 1028.62" stroke="#d3c8c0" stroke-width="1.4" fill="none"/>
<g fill="url(#gH)">
<circle cx="562.45" cy="772.77" r="2.5"/>
<circle cx="558.46" cy="779.95" r="2.5"/>
<circle cx="584.52" cy="780.48" r="2.5"/>
<circle cx="559.26" cy="786.6" r="2.5"/>
<circle cx="584.52" cy="787.39" r="2.5"/>
<circle cx="557.39" cy="793.24" r="2.5"/>
<circle cx="583.19" cy="794.04" r="2.5"/>
<circle cx="556.6" cy="798.56" r="2.5"/>
<circle cx="581.86" cy="799.89" r="2.5"/>
<circle cx="556.6" cy="805.21" r="2.5"/>
<circle cx="565.9" cy="803.88" r="2.5"/>
<circle cx="601.28" cy="807.34" r="2.5"/>
<circle cx="562.71" cy="828.62" r="2.5"/>
<circle cx="612.98" cy="829.95" r="2.5"/>
<circle cx="574.68" cy="852.29" r="2.5"/>
<circle cx="623.09" cy="849.1" r="2.5"/>
<circle cx="582.39" cy="867.18" r="2.5"/>
<circle cx="635.85" cy="872.5" r="2.5"/>
<circle cx="580.53" cy="892.98" r="2.5"/>
<circle cx="633.72" cy="897.77" r="2.5"/>
<circle cx="579.73" cy="919.57" r="2.5"/>
<circle cx="632.39" cy="922.77" r="2.5"/>
<circle cx="590.64" cy="942.18" r="2.5"/>
<circle cx="607.66" cy="951.49" r="2.5"/>
<circle cx="635.05" cy="947.5" r="2.5"/>
<circle cx="646.22" cy="970.11" r="2.5"/>
<circle cx="618.56" cy="975.43" r="2.5"/>
<circle cx="647.02" cy="987.39" r="2.5"/>
<circle cx="648.35" cy="992.71" r="2.5"/>
<circle cx="613.78" cy="993.51" r="2.5"/>
<circle cx="635.05" cy="1010" r="2.5"/>
<circle cx="623.09" cy="996.7" r="2.5"/>
<circle cx="593.03" cy="1007.34" r="2.5"/>
<circle cx="615.11" cy="1024.63" r="2.5"/>
<circle cx="603.14" cy="1010" r="2.5"/>
<circle cx="579.2" cy="1025.96" r="2.5"/>
<circle cx="580.53" cy="1031.28" r="2.5"/>
<circle cx="592.5" cy="1039.26" r="2.5"/>
</g>
<g fill="url(#gC)">
<circle cx="568.56" cy="783.4" r="3.8"/>
<circle cx="576.54" cy="787.93" r="3.8"/>
<circle cx="566.44" cy="789.79" r="3.8"/>
<circle cx="575.21" cy="794.57" r="3.8"/>
<circle cx="565.9" cy="796.7" r="3.8"/>
<circle cx="573.88" cy="801.22" r="3.8"/>
<circle cx="581.33" cy="815.85" r="3.8"/>
<circle cx="595.16" cy="816.65" r="3.8"/>
<circle cx="573.88" cy="828.62" r="3.8"/>
<circle cx="601.81" cy="829.68" r="3.8"/>
<circle cx="581.33" cy="841.65" r="3.8"/>
<circle cx="594.63" cy="842.45" r="3.8"/>
<circle cx="601.81" cy="856.54" r="3.8"/>
<circle cx="617.23" cy="858.4" r="3.8"/>
<circle cx="593.83" cy="868.24" r="3.8"/>
<circle cx="624.41" cy="871.17" r="3.8"/>
<circle cx="601.01" cy="881.81" r="3.8"/>
<circle cx="615.64" cy="883.14" r="3.8"/>
<circle cx="592.5" cy="893.78" r="3.8"/>
<circle cx="622.55" cy="896.44" r="3.8"/>
<circle cx="599.15" cy="907.07" r="3.8"/>
<circle cx="614.31" cy="908.94" r="3.8"/>
<circle cx="591.17" cy="919.04" r="3.8"/>
<circle cx="620.96" cy="922.23" r="3.8"/>
<circle cx="598.35" cy="932.34" r="3.8"/>
<circle cx="613.24" cy="933.67" r="3.8"/>
<circle cx="620.43" cy="947.77" r="3.8"/>
<circle cx="631.6" cy="953.35" r="3.8"/>
<circle cx="615.64" cy="956.28" r="3.8"/>
<circle cx="637.71" cy="966.12" r="3.8"/>
<circle cx="622.29" cy="968.78" r="3.8"/>
<circle cx="633.19" cy="974.1" r="3.8"/>
<circle cx="640.37" cy="988.72" r="3.8"/>
<circle cx="628.94" cy="1001.49" r="3.8"/>
<circle cx="619.89" cy="1003.35" r="3.8"/>
<circle cx="608.46" cy="1015.32" r="3.8"/>
<circle cx="598.62" cy="1017.45" r="3.8"/>
<circle cx="587.18" cy="1028.62" r="3.8"/>
</g>
<path d="M518.35 591.33L523.39 586.28M518.35 591.33L529.45 582.25M518.35 591.33L534.49 589.31M518.35 591.33L522.38 596.37M523.39 586.28L529.45 582.25M523.39 586.28L534.49 589.31M523.39 586.28L522.38 596.37M529.45 582.25L534.49 589.31M529.45 582.25L522.38 596.37M529.45 582.25L540.54 578.21M534.49 589.31L522.38 596.37M534.49 589.31L540.54 578.21M534.49 589.31L548.62 585.27M540.54 578.21L548.62 585.27M548.62 585.27L561.74 594.35M566.78 575.18L572.84 576.19M566.78 575.18L576.87 577.2M566.78 575.18L567.79 585.27M566.78 575.18L575.86 586.28M572.84 576.19L576.87 577.2M572.84 576.19L567.79 585.27M572.84 576.19L575.86 586.28M576.87 577.2L567.79 585.27M576.87 577.2L575.86 586.28M567.79 585.27L575.86 586.28M567.79 585.27L561.74 594.35M575.86 586.28L561.74 594.35M561.74 594.35L565.37 603.44M553.66 613.53L565.77 615.54M553.66 613.53L565.37 603.44M553.66 613.53L559.31 622.81M565.77 615.54L574.85 625.64M565.77 615.54L565.37 603.44M565.77 615.54L559.31 622.81M574.85 625.64L586.96 620.59M574.85 625.64L569.81 639.76M574.85 625.64L559.31 622.81M586.96 620.59L593.02 631.69M555.68 636.74L569.81 639.76M555.68 636.74L560.73 645.82M555.68 636.74L549.63 642.79M555.68 636.74L559.31 622.81M569.81 639.76L560.73 645.82M569.81 639.76L575.86 649.85M569.81 639.76L585.95 638.75M560.73 645.82L575.86 649.85M560.73 645.82L554.67 658.94M560.73 645.82L549.63 642.79M575.86 649.85L569.81 661.96M575.86 649.85L585.95 638.75M575.86 649.85L589.99 643.8M554.67 658.94L569.81 661.96M554.67 658.94L559.72 668.02M554.67 658.94L549.63 642.79M554.67 658.94L541.55 668.42M569.81 661.96L559.72 668.02M569.81 661.96L578.89 667.01M569.81 661.96L577.88 672.05M569.81 661.96L585.95 664.38M559.72 668.02L568.8 681.54M578.89 667.01L577.88 672.05M578.89 667.01L592.01 671.04M578.89 667.01L585.95 664.38M577.88 672.05L592.01 671.04M577.88 672.05L568.8 681.54M577.88 672.05L585.95 664.38M585.95 638.75L593.02 631.69M585.95 638.75L589.99 643.8M593.02 631.69L589.99 643.8M593.02 631.69L605.13 625.64M589.99 643.8L595.04 653.49M595.04 653.49L606.74 651.47M595.04 653.49L585.95 664.38M605.13 625.64L619.25 634.31M605.13 625.64L610.78 622.61M609.16 607.07L619.66 597.38M609.16 607.07L594.43 604.24M609.16 607.07L610.78 622.61M619.66 597.38L619.66 583.86M619.66 597.38L632.37 599M619.66 583.86L619.86 572.76M632.37 599L642.46 601.42M619.25 634.31L632.98 626.04M619.25 634.31L610.78 622.61M541.15 683.76L532.88 695.67M541.15 683.76L541.55 668.42M541.15 683.76L551.04 684.57M532.88 695.67L524.8 695.26M532.88 695.67L532.47 709.39M532.88 695.67L517.54 695.46M524.8 695.26L532.47 709.39M524.8 695.26L517.54 695.46M532.47 709.39L532.07 720.49M592.01 671.04L597.05 686.18M592.01 671.04L585.95 664.38M597.05 686.18L603.11 694.25M603.11 694.25L609.16 709.99M609.16 709.99L615.22 716.45M615.22 716.45L619.86 732.19M619.86 732.19L625.71 738.65M625.71 738.65L630.35 754.39M507.25 585.27L518.35 591.33M512.29 580.23L518.35 591.33M519.35 575.18L523.39 586.28M531.46 571.15L529.45 582.25M547.61 571.15L540.54 578.21M510.27 598.39L518.35 591.33M512.29 605.45L522.38 596.37M516.33 600.41L522.38 596.37M530.45 604.45L522.38 596.37M540.54 598.39L534.49 589.31M537.52 594.35L534.49 589.31M551.64 576.19L548.62 585.27M557.7 567.51L566.78 575.18M562.74 568.12L566.78 575.18M567.79 568.72L566.78 575.18M572.84 569.13L572.84 576.19M576.87 569.53L576.87 577.2M582.93 570.74L576.87 577.2M587.97 573.57L576.87 577.2M562.74 581.24L567.79 585.27M580.91 592.34L575.86 586.28M584.94 595.36L575.86 586.28M576.87 593.35L575.86 586.28M544.58 607.47L553.66 613.53M547.61 619.58L553.66 613.53M569.81 600.41L565.37 603.44M573.84 611.51L565.77 615.54M557.7 603.44L565.37 603.44M581.92 628.66L574.85 625.64M584.94 634.72L585.95 638.75M595.04 641.78L589.99 643.8M565.77 647.84L560.73 645.82M568.8 664.99L569.81 661.96M602.1 665.6L592.01 671.04M598.06 664.99L592.01 671.04M573.84 683.15L568.8 681.54M605.13 615.54L610.78 622.61M633.38 616.55L632.98 626.04M642.46 633.71L632.98 626.04M618.85 639.76L619.25 634.31M619.25 644.81L619.25 634.31M586.96 692.24L597.05 686.18M593.02 696.27L603.11 694.25M611.18 688.2L603.11 694.25M606.14 685.17L597.05 686.18M600.08 717.46L609.16 709.99M605.13 716.45L609.16 709.99M623.29 710.4L615.22 716.45M618.24 708.38L615.22 716.45M610.17 738.65L619.86 732.19M616.23 737.64L619.86 732.19M634.39 733L625.71 738.65M629.34 730.58L625.71 738.65M620.26 761.26L630.35 754.39M633.38 759.84L630.35 754.39M639.43 755.81L630.35 754.39" stroke="#d3c8c0" stroke-width="1.4" fill="none"/>
<g fill="url(#gH)">
<circle cx="507.25" cy="585.27" r="2.5"/>
<circle cx="512.29" cy="580.23" r="2.5"/>
<circle cx="519.35" cy="575.18" r="2.5"/>
<circle cx="531.46" cy="571.15" r="2.5"/>
<circle cx="547.61" cy="571.15" r="2.5"/>
<circle cx="510.27" cy="598.39" r="2.5"/>
<circle cx="512.29" cy="605.45" r="2.5"/>
<circle cx="516.33" cy="600.41" r="2.5"/>
<circle cx="530.45" cy="604.45" r="2.5"/>
<circle cx="540.54" cy="598.39" r="2.5"/>
<circle cx="537.52" cy="594.35" r="2.5"/>
<circle cx="551.64" cy="576.19" r="2.5"/>
<circle cx="557.7" cy="567.51" r="2.5"/>
<circle cx="562.74" cy="568.12" r="2.5"/>
<circle cx="567.79" cy="568.72" r="2.5"/>
<circle cx="572.84" cy="569.13" r="2.5"/>
<circle cx="576.87" cy="569.53" r="2.5"/>
<circle cx="582.93" cy="570.74" r="2.5"/>
<circle cx="587.97" cy="573.57" r="2.5"/>
<circle cx="562.74" cy="581.24" r="2.5"/>
<circle cx="580.91" cy="592.34" r="2.5"/>
<circle cx="584.94" cy="595.36" r="2.5"/>
<circle cx="576.87" cy="593.35" r="2.5"/>
<circle cx="544.58" cy="607.47" r="2.5"/>
<circle cx="547.61" cy="619.58" r="2.5"/>
<circle cx="569.81" cy="600.41" r="2.5"/>
<circle cx="573.84" cy="611.51" r="2.5"/>
<circle cx="557.7" cy="603.44" r="2.5"/>
<circle cx="581.92" cy="628.66" r="2.5"/>
<circle cx="584.94" cy="634.72" r="2.5"/>
<circle cx="595.04" cy="641.78" r="2.5"/>
<circle cx="565.77" cy="647.84" r="2.5"/>
<circle cx="568.8" cy="664.99" r="2.5"/>
<circle cx="602.1" cy="665.6" r="2.5"/>
<circle cx="598.06" cy="664.99" r="2.5"/>
<circle cx="573.84" cy="683.15" r="2.5"/>
<circle cx="605.13" cy="615.54" r="2.5"/>
<circle cx="633.38" cy="616.55" r="2.5"/>
<circle cx="642.46" cy="633.71" r="2.5"/>
<circle cx="618.85" cy="639.76" r="2.5"/>
<circle cx="619.25" cy="644.81" r="2.5"/>
<circle cx="586.96" cy="692.24" r="2.5"/>
<circle cx="593.02" cy="696.27" r="2.5"/>
<circle cx="611.18" cy="688.2" r="2.5"/>
<circle cx="606.14" cy="685.17" r="2.5"/>
<circle cx="600.08" cy="717.46" r="2.5"/>
<circle cx="605.13" cy="716.45" r="2.5"/>
<circle cx="623.29" cy="710.4" r="2.5"/>
<circle cx="618.24" cy="708.38" r="2.5"/>
<circle cx="610.17" cy="738.65" r="2.5"/>
<circle cx="616.23" cy="737.64" r="2.5"/>
<circle cx="634.39" cy="733" r="2.5"/>
<circle cx="629.34" cy="730.58" r="2.5"/>
<circle cx="620.26" cy="761.26" r="2.5"/>
<circle cx="633.38" cy="759.84" r="2.5"/>
<circle cx="639.43" cy="755.81" r="2.5"/>
</g>
<g fill="url(#gC)">
<circle cx="518.35" cy="591.33" r="3.8"/>
<circle cx="523.39" cy="586.28" r="3.8"/>
<circle cx="529.45" cy="582.25" r="3.8"/>
<circle cx="534.49" cy="589.31" r="3.8"/>
<circle cx="522.38" cy="596.37" r="3.8"/>
<circle cx="540.54" cy="578.21" r="3.8"/>
<circle cx="548.62" cy="585.27" r="3.8"/>
<circle cx="566.78" cy="575.18" r="3.8"/>
<circle cx="572.84" cy="576.19" r="3.8"/>
<circle cx="576.87" cy="577.2" r="3.8"/>
<circle cx="567.79" cy="585.27" r="3.8"/>
<circle cx="575.86" cy="586.28" r="3.8"/>
<circle cx="561.74" cy="594.35" r="3.8"/>
<circle cx="553.66" cy="613.53" r="3.8"/>
<circle cx="565.77" cy="615.54" r="3.8"/>
<circle cx="574.85" cy="625.64" r="3.8"/>
<circle cx="586.96" cy="620.59" r="3.8"/>
<circle cx="555.68" cy="636.74" r="3.8"/>
<circle cx="569.81" cy="639.76" r="3.8"/>
<circle cx="560.73" cy="645.82" r="3.8"/>
<circle cx="575.86" cy="649.85" r="3.8"/>
<circle cx="554.67" cy="658.94" r="3.8"/>
<circle cx="569.81" cy="661.96" r="3.8"/>
<circle cx="559.72" cy="668.02" r="3.8"/>
<circle cx="578.89" cy="667.01" r="3.8"/>
<circle cx="577.88" cy="672.05" r="3.8"/>
<circle cx="585.95" cy="638.75" r="3.8"/>
<circle cx="593.02" cy="631.69" r="3.8"/>
<circle cx="589.99" cy="643.8" r="3.8"/>
<circle cx="595.04" cy="653.49" r="3.8"/>
<circle cx="605.13" cy="625.64" r="3.8"/>
<circle cx="609.16" cy="607.07" r="3.8"/>
<circle cx="619.66" cy="597.38" r="3.8"/>
<circle cx="619.66" cy="583.86" r="3.8"/>
<circle cx="632.37" cy="599" r="3.8"/>
<circle cx="619.25" cy="634.31" r="3.8"/>
<circle cx="632.98" cy="626.04" r="3.8"/>
<circle cx="541.15" cy="683.76" r="3.8"/>
<circle cx="532.88" cy="695.67" r="3.8"/>
<circle cx="524.8" cy="695.26" r="3.8"/>
<circle cx="532.47" cy="709.39" r="3.8"/>
<circle cx="592.01" cy="671.04" r="3.8"/>
<circle cx="597.05" cy="686.18" r="3.8"/>
<circle cx="603.11" cy="694.25" r="3.8"/>
<circle cx="609.16" cy="709.99" r="3.8"/>
<circle cx="615.22" cy="716.45" r="3.8"/>
<circle cx="619.86" cy="732.19" r="3.8"/>
<circle cx="625.71" cy="738.65" r="3.8"/>
<circle cx="630.35" cy="754.39" r="3.8"/>
</g>
<g fill="url(#gO)">
<circle cx="565.37" cy="603.44" r="3.61"/>
<circle cx="549.63" cy="642.79" r="3.61"/>
<circle cx="606.74" cy="651.47" r="3.61"/>
<circle cx="568.8" cy="681.54" r="3.61"/>
</g>
<g fill="url(#gS)">
<circle cx="594.43" cy="604.24" r="4.37"/>
<circle cx="610.78" cy="622.61" r="4.37"/>
<circle cx="541.55" cy="668.42" r="4.37"/>
<circle cx="551.04" cy="684.57" r="4.37"/>
</g>
<g fill="url(#gN)">
<circle cx="619.86" cy="572.76" r="3.61"/>
<circle cx="642.46" cy="601.42" r="3.61"/>
<circle cx="559.31" cy="622.81" r="3.61"/>
<circle cx="585.95" cy="664.38" r="3.61"/>
<circle cx="517.54" cy="695.46" r="3.61"/>
<circle cx="532.07" cy="720.49" r="3.61"/>
</g>
<path d="M359.7 58.5L367.09 61.87M359.7 58.5L358.31 64.3M359.7 58.5L366.43 67.84M359.7 58.5L358.38 70.44M359.7 58.5L365.76 73.81M367.09 61.87L358.31 64.3M367.09 61.87L366.43 67.84M367.09 61.87L358.38 70.44M367.09 61.87L365.76 73.81M358.31 64.3L366.43 67.84M358.31 64.3L358.38 70.44M358.31 64.3L365.76 73.81M366.43 67.84L358.38 70.44M366.43 67.84L365.76 73.81M358.38 70.44L365.76 73.81M365.76 73.81L373.46 86.14M373.46 86.14L385.72 85.78M373.46 86.14L367.87 97.98M385.72 85.78L392.59 96.77M367.87 97.98L375.45 108.9M392.59 96.77L387.24 108.58M375.45 108.9L387.24 108.58M387.24 108.58L394.66 120.47M394.66 120.47L408.41 120.92M394.66 120.47L388.52 131.4M408.41 120.92L415.73 131.63M388.52 131.4L395.9 142.82M415.73 131.63L408.91 142.86M395.9 142.82L408.91 142.86M395.9 142.82L389.31 154.03M408.91 142.86L416.03 154.06M389.31 154.03L396.2 165.25M416.03 154.06L409.72 165.73M396.2 165.25L409.72 165.73M396.2 165.25L390.08 176.42M409.72 165.73L416.61 176.95M390.08 176.42L397.44 187.6M416.61 176.95L410.69 187.63M397.44 187.6L410.69 187.63M410.69 187.63L418.11 199.51M418.11 199.51L428.39 203.58M418.11 199.51L414.54 207.39M428.39 203.58L434.77 214.37M414.54 207.39L421.37 217.9M434.77 214.37L431.39 221.76M421.37 217.9L431.39 221.76M431.39 221.76L438.86 234.11M438.86 234.11L429.75 246.25M429.75 246.25L421.92 248.59M421.92 248.59L412.75 260.03M412.75 260.03L404.23 262.67M404.23 262.67L395 273.4M353.48 49.59L359.7 58.5M350.52 56.23L359.7 58.5M373.55 54.69L367.09 61.87M351.73 62.03L358.31 64.3M374.09 60.79L367.09 61.87M350.6 68.04L358.38 70.44M373.42 66.76L366.43 67.84M350.31 72.8L358.38 70.44M372.7 72.02L365.76 73.81M350.82 78.66L358.38 70.44M358.93 76.77L358.38 70.44M390.4 77.1L385.72 85.78M358.02 98.84L367.87 97.98M402.47 96.14L392.59 96.77M370.4 118.8L375.45 108.9M412.86 112.26L408.41 120.92M378.35 131.35L388.52 131.4M425.92 131.92L415.73 131.63M378.69 154.25L389.31 154.03M425.99 154.38L416.03 154.06M380.04 177.77L390.08 176.42M426.74 176.54L416.61 176.95M391.4 196.88L397.44 187.6M407.13 203.78L414.54 207.39M430.99 198.15L428.39 203.58M442.58 217.24L434.77 214.37M418.59 224.06L421.37 217.9M444.62 232.43L438.86 234.11M446.2 237.02L438.86 234.11M415.76 240.38L421.92 248.59M435.8 253.29L429.75 246.25M424.22 242.48L421.92 248.59M398.52 254.18L404.23 262.67M419.33 267.73L412.75 260.03M407.65 255.75L412.75 260.03M387.76 271.67L395 273.4M389.34 276.26L395 273.4M400.51 282.38L395 273.4" stroke="#d3c8c0" stroke-width="1.3" fill="none"/>
<g fill="url(#gH)">
<circle cx="353.48" cy="49.59" r="2.2"/>
<circle cx="350.52" cy="56.23" r="2.2"/>
<circle cx="373.55" cy="54.69" r="2.2"/>
<circle cx="351.73" cy="62.03" r="2.2"/>
<circle cx="374.09" cy="60.79" r="2.2"/>
<circle cx="350.6" cy="68.04" r="2.2"/>
<circle cx="373.42" cy="66.76" r="2.2"/>
<circle cx="350.31" cy="72.8" r="2.2"/>
<circle cx="372.7" cy="72.02" r="2.2"/>
<circle cx="350.82" cy="78.66" r="2.2"/>
<circle cx="358.93" cy="76.77" r="2.2"/>
<circle cx="390.4" cy="77.1" r="2.2"/>
<circle cx="358.02" cy="98.84" r="2.2"/>
<circle cx="402.47" cy="96.14" r="2.2"/>
<circle cx="370.4" cy="118.8" r="2.2"/>
<circle cx="412.86" cy="112.26" r="2.2"/>
<circle cx="378.35" cy="131.35" r="2.2"/>
<circle cx="425.92" cy="131.92" r="2.2"/>
<circle cx="378.69" cy="154.25" r="2.2"/>
<circle cx="425.99" cy="154.38" r="2.2"/>
<circle cx="380.04" cy="177.77" r="2.2"/>
<circle cx="426.74" cy="176.54" r="2.2"/>
<circle cx="391.4" cy="196.88" r="2.2"/>
<circle cx="407.13" cy="203.78" r="2.2"/>
<circle cx="430.99" cy="198.15" r="2.2"/>
<circle cx="442.58" cy="217.24" r="2.2"/>
<circle cx="418.59" cy="224.06" r="2.2"/>
<circle cx="444.62" cy="232.43" r="2.2"/>
<circle cx="446.2" cy="237.02" r="2.2"/>
<circle cx="415.76" cy="240.38" r="2.2"/>
<circle cx="435.8" cy="253.29" r="2.2"/>
<circle cx="424.22" cy="242.48" r="2.2"/>
<circle cx="398.52" cy="254.18" r="2.2"/>
<circle cx="419.33" cy="267.73" r="2.2"/>
<circle cx="407.65" cy="255.75" r="2.2"/>
<circle cx="387.76" cy="271.67" r="2.2"/>
<circle cx="389.34" cy="276.26" r="2.2"/>
<circle cx="400.51" cy="282.38" r="2.2"/>
</g>
<g fill="url(#gC)">
<circle cx="359.7" cy="58.5" r="3.4"/>
<circle cx="367.09" cy="61.87" r="3.4"/>
<circle cx="358.31" cy="64.3" r="3.4"/>
<circle cx="366.43" cy="67.84" r="3.4"/>
<circle cx="358.38" cy="70.44" r="3.4"/>
<circle cx="365.76" cy="73.81" r="3.4"/>
<circle cx="373.46" cy="86.14" r="3.4"/>
<circle cx="385.72" cy="85.78" r="3.4"/>
<circle cx="367.87" cy="97.98" r="3.4"/>
<circle cx="392.59" cy="96.77" r="3.4"/>
<circle cx="375.45" cy="108.9" r="3.4"/>
<circle cx="387.24" cy="108.58" r="3.4"/>
<circle cx="394.66" cy="120.47" r="3.4"/>
<circle cx="408.41" cy="120.92" r="3.4"/>
<circle cx="388.52" cy="131.4" r="3.4"/>
<circle cx="415.73" cy="131.63" r="3.4"/>
<circle cx="395.9" cy="142.82" r="3.4"/>
<circle cx="408.91" cy="142.86" r="3.4"/>
<circle cx="389.31" cy="154.03" r="3.4"/>
<circle cx="416.03" cy="154.06" r="3.4"/>
<circle cx="396.2" cy="165.25" r="3.4"/>
<circle cx="409.72" cy="165.73" r="3.4"/>
<circle cx="390.08" cy="176.42" r="3.4"/>
<circle cx="416.61" cy="176.95" r="3.4"/>
<circle cx="397.44" cy="187.6" r="3.4"/>
<circle cx="410.69" cy="187.63" r="3.4"/>
<circle cx="418.11" cy="199.51" r="3.4"/>
<circle cx="428.39" cy="203.58" r="3.4"/>
<circle cx="414.54" cy="207.39" r="3.4"/>
<circle cx="434.77" cy="214.37" r="3.4"/>
<circle cx="421.37" cy="217.9" r="3.4"/>
<circle cx="431.39" cy="221.76" r="3.4"/>
<circle cx="438.86" cy="234.11" r="3.4"/>
<circle cx="429.75" cy="246.25" r="3.4"/>
<circle cx="421.92" cy="248.59" r="3.4"/>
<circle cx="412.75" cy="260.03" r="3.4"/>
<circle cx="404.23" cy="262.67" r="3.4"/>
<circle cx="395" cy="273.4" r="3.4"/>
</g>
<path d="M801.05 75.39L805.14 70.55M801.05 75.39L810.2 66.52M801.05 75.39L815.2 72.4M801.05 75.39L805 79.56M805.14 70.55L810.2 66.52M805.14 70.55L815.2 72.4M805.14 70.55L805 79.56M810.2 66.52L815.2 72.4M810.2 66.52L805 79.56M810.2 66.52L819.74 62.12M815.2 72.4L805 79.56M815.2 72.4L819.74 62.12M815.2 72.4L827.42 67.78M819.74 62.12L827.42 67.78M827.42 67.78L839.71 74.85M842.76 57.49L848.2 57.93M842.76 57.49L851.85 58.53M842.76 57.49L844.4 66.35M842.76 57.49L851.63 66.65M848.2 57.93L851.85 58.53M848.2 57.93L844.4 66.35M848.2 57.93L851.63 66.65M851.85 58.53L844.4 66.35M851.85 58.53L851.63 66.65M844.4 66.35L851.63 66.65M844.4 66.35L839.71 74.85M851.63 66.65L839.71 74.85M839.71 74.85L843.6 82.63M833.98 92.43L844.86 93.32M833.98 92.43L843.6 82.63M833.98 92.43L839.68 100.24M844.86 93.32L853.66 101.59M844.86 93.32L843.6 82.63M844.86 93.32L839.68 100.24M853.66 101.59L864.01 96.22M853.66 101.59L850.24 114.48M853.66 101.59L839.68 100.24M864.01 96.22L870.2 105.6M837.5 112.85L850.24 114.48M837.5 112.85L842.64 120.52M837.5 112.85L832.58 118.66M837.5 112.85L839.68 100.24M850.24 114.48L842.64 120.52M850.24 114.48L856.35 122.97M850.24 114.48L864.47 112.38M842.64 120.52L856.35 122.97M842.64 120.52L838.25 132.59M842.64 120.52L832.58 118.66M856.35 122.97L851.89 134.15M856.35 122.97L864.47 112.38M856.35 122.97L868.42 116.55M838.25 132.59L851.89 134.15M838.25 132.59L843.4 140.26M838.25 132.59L832.58 118.66M838.25 132.59L827.33 141.97M851.89 134.15L843.4 140.26M851.89 134.15L860.31 137.94M851.89 134.15L859.79 142.49M851.89 134.15L866.37 135.09M843.4 140.26L852.45 151.56M860.31 137.94L859.79 142.49M860.31 137.94L872.23 140.54M860.31 137.94L866.37 135.09M859.79 142.49L872.23 140.54M859.79 142.49L852.45 151.56M859.79 142.49L866.37 135.09M864.47 112.38L870.2 105.6M864.47 112.38L868.42 116.55M870.2 105.6L868.42 116.55M870.2 105.6L880.48 99.34M868.42 116.55L873.61 124.76M873.61 124.76L883.83 122.1M873.61 124.76L866.37 135.09M880.48 99.34L893.64 105.98M880.48 99.34L885.26 96.24M882.67 82.59L891.25 73.23M882.67 82.59L869.41 81.18M882.67 82.59L885.26 96.24M891.25 73.23L890.25 61.25M891.25 73.23L902.63 73.71M890.25 61.25L889.6 51.4M902.63 73.71L911.75 75.11M893.64 105.98L905.18 97.63M893.64 105.98L885.26 96.24M828.12 155.58L821.67 166.75M828.12 155.58L827.33 141.97M828.12 155.58L836.94 155.57M821.67 166.75L814.49 166.99M821.67 166.75L822.33 178.94M821.67 166.75L808.07 167.71M814.49 166.99L822.33 178.94M814.49 166.99L808.07 167.71M822.33 178.94L822.8 188.8M872.23 140.54L877.82 153.58M872.23 140.54L866.37 135.09M877.82 153.58L883.79 160.28M883.79 160.28L890.32 173.77M890.32 173.77L896.16 179.05M896.16 179.05L901.45 192.65M901.45 192.65L907.11 197.93M907.11 197.93L912.39 211.54M790.76 70.85L801.05 75.39M794.86 66.01L801.05 75.39M800.74 61.01L805.14 70.55M811.17 56.54L810.2 66.52M825.47 55.34L819.74 62.12M794.42 82.25L801.05 75.39M796.73 88.36L805 79.56M799.93 83.59L805 79.56M812.75 86.11L805 79.56M821.24 80L815.2 72.4M818.26 76.65L815.2 72.4M829.42 59.51L827.42 67.78M834.14 51.37L842.76 57.49M838.66 51.53L842.76 57.49M843.17 51.69L842.76 57.49M847.67 51.68L848.2 57.93M851.28 51.73L851.85 58.53M856.73 52.36L851.85 58.53M861.41 54.48L851.85 58.53M839.63 63.15L844.4 66.35M856.55 71.64L851.63 66.65M860.35 74.02L851.63 66.65M853.05 72.83L851.63 66.65M825.49 87.75L833.98 92.43M829.07 98.25L833.98 92.43M847.31 79.61L843.6 82.63M851.71 89.15L844.86 93.32M836.81 83.19L843.6 82.63M860.14 103.74L853.66 101.59M863.27 108.88L864.47 112.38M872.74 114.39L868.42 116.55M847.26 121.93L842.64 120.52M851.22 136.9L851.89 134.15M880.76 134.96L872.23 140.54M877.14 134.73L872.23 140.54M857.04 152.62L852.45 151.56M879.73 90.4L885.26 96.24M904.83 89.19L905.18 97.63M914.15 103.72L905.18 97.63M893.68 110.83L893.64 105.98M894.42 115.27L893.64 105.98M869.33 159.69L877.82 153.58M875 162.82L883.79 160.28M890.49 154.32L883.79 160.28M885.79 152.01L877.82 153.58M882.83 181.07L890.32 173.77M887.22 179.8L890.32 173.77M902.87 173.08L896.16 179.05M898.25 171.67L896.16 179.05M893.34 199.09L901.45 192.65M898.63 197.75L901.45 192.65M914.38 192.28L907.11 197.93M909.73 190.51L907.11 197.93M903.96 218.36L912.39 211.54M915.48 216.14L912.39 211.54M920.54 212.11L912.39 211.54" stroke="#d3c8c0" stroke-width="1.3" fill="none"/>
<g fill="url(#gH)">
<circle cx="790.76" cy="70.85" r="2.2"/>
<circle cx="794.86" cy="66.01" r="2.2"/>
<circle cx="800.74" cy="61.01" r="2.2"/>
<circle cx="811.17" cy="56.54" r="2.2"/>
<circle cx="825.47" cy="55.34" r="2.2"/>
<circle cx="794.42" cy="82.25" r="2.2"/>
<circle cx="796.73" cy="88.36" r="2.2"/>
<circle cx="799.93" cy="83.59" r="2.2"/>
<circle cx="812.75" cy="86.11" r="2.2"/>
<circle cx="821.24" cy="80" r="2.2"/>
<circle cx="818.26" cy="76.65" r="2.2"/>
<circle cx="829.42" cy="59.51" r="2.2"/>
<circle cx="834.14" cy="51.37" r="2.2"/>
<circle cx="838.66" cy="51.53" r="2.2"/>
<circle cx="843.17" cy="51.69" r="2.2"/>
<circle cx="847.67" cy="51.68" r="2.2"/>
<circle cx="851.28" cy="51.73" r="2.2"/>
<circle cx="856.73" cy="52.36" r="2.2"/>
<circle cx="861.41" cy="54.48" r="2.2"/>
<circle cx="839.63" cy="63.15" r="2.2"/>
<circle cx="856.55" cy="71.64" r="2.2"/>
<circle cx="860.35" cy="74.02" r="2.2"/>
<circle cx="853.05" cy="72.83" r="2.2"/>
<circle cx="825.49" cy="87.75" r="2.2"/>
<circle cx="829.07" cy="98.25" r="2.2"/>
<circle cx="847.31" cy="79.61" r="2.2"/>
<circle cx="851.71" cy="89.15" r="2.2"/>
<circle cx="836.81" cy="83.19" r="2.2"/>
<circle cx="860.14" cy="103.74" r="2.2"/>
<circle cx="863.27" cy="108.88" r="2.2"/>
<circle cx="872.74" cy="114.39" r="2.2"/>
<circle cx="847.26" cy="121.93" r="2.2"/>
<circle cx="851.22" cy="136.9" r="2.2"/>
<circle cx="880.76" cy="134.96" r="2.2"/>
<circle cx="877.14" cy="134.73" r="2.2"/>
<circle cx="857.04" cy="152.62" r="2.2"/>
<circle cx="879.73" cy="90.4" r="2.2"/>
<circle cx="904.83" cy="89.19" r="2.2"/>
<circle cx="914.15" cy="103.72" r="2.2"/>
<circle cx="893.68" cy="110.83" r="2.2"/>
<circle cx="894.42" cy="115.27" r="2.2"/>
<circle cx="869.33" cy="159.69" r="2.2"/>
<circle cx="875" cy="162.82" r="2.2"/>
<circle cx="890.49" cy="154.32" r="2.2"/>
<circle cx="885.79" cy="152.01" r="2.2"/>
<circle cx="882.83" cy="181.07" r="2.2"/>
<circle cx="887.22" cy="179.8" r="2.2"/>
<circle cx="902.87" cy="173.08" r="2.2"/>
<circle cx="898.25" cy="171.67" r="2.2"/>
<circle cx="893.34" cy="199.09" r="2.2"/>
<circle cx="898.63" cy="197.75" r="2.2"/>
<circle cx="914.38" cy="192.28" r="2.2"/>
<circle cx="909.73" cy="190.51" r="2.2"/>
<circle cx="903.96" cy="218.36" r="2.2"/>
<circle cx="915.48" cy="216.14" r="2.2"/>
<circle cx="920.54" cy="212.11" r="2.2"/>
</g>
<g fill="url(#gC)">
<circle cx="801.05" cy="75.39" r="3.4"/>
<circle cx="805.14" cy="70.55" r="3.4"/>
<circle cx="810.2" cy="66.52" r="3.4"/>
<circle cx="815.2" cy="72.4" r="3.4"/>
<circle cx="805" cy="79.56" r="3.4"/>
<circle cx="819.74" cy="62.12" r="3.4"/>
<circle cx="827.42" cy="67.78" r="3.4"/>
<circle cx="842.76" cy="57.49" r="3.4"/>
<circle cx="848.2" cy="57.93" r="3.4"/>
<circle cx="851.85" cy="58.53" r="3.4"/>
<circle cx="844.4" cy="66.35" r="3.4"/>
<circle cx="851.63" cy="66.65" r="3.4"/>
<circle cx="839.71" cy="74.85" r="3.4"/>
<circle cx="833.98" cy="92.43" r="3.4"/>
<circle cx="844.86" cy="93.32" r="3.4"/>
<circle cx="853.66" cy="101.59" r="3.4"/>
<circle cx="864.01" cy="96.22" r="3.4"/>
<circle cx="837.5" cy="112.85" r="3.4"/>
<circle cx="850.24" cy="114.48" r="3.4"/>
<circle cx="842.64" cy="120.52" r="3.4"/>
<circle cx="856.35" cy="122.97" r="3.4"/>
<circle cx="838.25" cy="132.59" r="3.4"/>
<circle cx="851.89" cy="134.15" r="3.4"/>
<circle cx="843.4" cy="140.26" r="3.4"/>
<circle cx="860.31" cy="137.94" r="3.4"/>
<circle cx="859.79" cy="142.49" r="3.4"/>
<circle cx="864.47" cy="112.38" r="3.4"/>
<circle cx="870.2" cy="105.6" r="3.4"/>
<circle cx="868.42" cy="116.55" r="3.4"/>
<circle cx="873.61" cy="124.76" r="3.4"/>
<circle cx="880.48" cy="99.34" r="3.4"/>
<circle cx="882.67" cy="82.59" r="3.4"/>
<circle cx="891.25" cy="73.23" r="3.4"/>
<circle cx="890.25" cy="61.25" r="3.4"/>
<circle cx="902.63" cy="73.71" r="3.4"/>
<circle cx="893.64" cy="105.98" r="3.4"/>
<circle cx="905.18" cy="97.63" r="3.4"/>
<circle cx="828.12" cy="155.58" r="3.4"/>
<circle cx="821.67" cy="166.75" r="3.4"/>
<circle cx="814.49" cy="166.99" r="3.4"/>
<circle cx="822.33" cy="178.94" r="3.4"/>
<circle cx="872.23" cy="140.54" r="3.4"/>
<circle cx="877.82" cy="153.58" r="3.4"/>
<circle cx="883.79" cy="160.28" r="3.4"/>
<circle cx="890.32" cy="173.77" r="3.4"/>
<circle cx="896.16" cy="179.05" r="3.4"/>
<circle cx="901.45" cy="192.65" r="3.4"/>
<circle cx="907.11" cy="197.93" r="3.4"/>
<circle cx="912.39" cy="211.54" r="3.4"/>
</g>
<g fill="url(#gO)">
<circle cx="843.6" cy="82.63" r="3.23"/>
<circle cx="832.58" cy="118.66" r="3.23"/>
<circle cx="883.83" cy="122.1" r="3.23"/>
<circle cx="852.45" cy="151.56" r="3.23"/>
</g>
<g fill="url(#gS)">
<circle cx="869.41" cy="81.18" r="3.91"/>
<circle cx="885.26" cy="96.24" r="3.91"/>
<circle cx="827.33" cy="141.97" r="3.91"/>
<circle cx="836.94" cy="155.57" r="3.91"/>
</g>
<g fill="url(#gN)">
<circle cx="889.6" cy="51.4" r="3.23"/>
<circle cx="911.75" cy="75.11" r="3.23"/>
<circle cx="839.68" cy="100.24" r="3.23"/>
<circle cx="866.37" cy="135.09" r="3.23"/>
<circle cx="808.07" cy="167.71" r="3.23"/>
<circle cx="822.8" cy="188.8" r="3.23"/>
</g>
<g fill="url(#gH)"><circle cx="1736.3" cy="102.8" r="2.9"/><circle cx="1740.3" cy="109.5" r="2.9"/><circle cx="1742.9" cy="118.9" r="2.9"/><circle cx="1742.9" cy="126.1" r="2.9"/><circle cx="1752.1" cy="101" r="2.9"/><circle cx="1760.9" cy="113.5" r="2.9"/><circle cx="1760.9" cy="121" r="2.9"/><circle cx="1760.9" cy="128" r="2.9"/><circle cx="1746.8" cy="95.7" r="2.9"/><circle cx="1765.8" cy="143" r="2.9"/></g>
<polygon fill="#1c7fd6" stroke="#1c7fd6" stroke-width="2.4" stroke-linejoin="round" points="1737.8,100 1744.9,96.5 1750.7,96.5 1752.1,103 1757.8,107 1759.5,113.5 1759.5,128 1763.8,131.5 1766.3,137.5 1764.3,142.5 1759.8,139 1755.7,135 1753.2,132.3 1745.3,130.5 1744.8,111.9 1739.5,106 1737.3,102.5"/>
<g fill="url(#gH)"><circle cx="1734.8" cy="88.5" r="2.9"/><circle cx="1737.3" cy="92" r="2.9"/><circle cx="1735.3" cy="96" r="2.9"/><circle cx="1741.3" cy="90.5" r="2.9"/><circle cx="1743.8" cy="94" r="2.9"/><circle cx="1739.3" cy="87.5" r="2.9"/><circle cx="1747.4" cy="132.5" r="2.9"/><circle cx="1752.8" cy="134.5" r="2.9"/><circle cx="1756.9" cy="140.5" r="2.9"/><circle cx="1755.7" cy="145" r="2.9"/><circle cx="1758.6" cy="146.5" r="2.9"/><circle cx="1762.3" cy="149.9" r="2.9"/><circle cx="1750.7" cy="149" r="2.9"/><circle cx="1753.2" cy="151" r="2.9"/><circle cx="1757.3" cy="154" r="2.9"/><circle cx="1747.4" cy="154.8" r="2.9"/><circle cx="1751.6" cy="158.1" r="2.9"/></g>
<g fill="#1c7fd6"><circle cx="1760.6" cy="147" r="2"/><circle cx="1755.7" cy="153.2" r="2"/><circle cx="1751.6" cy="155.8" r="2"/><circle cx="1736.6" cy="87.7" r="2"/><circle cx="1739.8" cy="93.5" r="2"/></g>
<g fill="url(#gH)"><circle cx="1783.1" cy="102.8" r="2.9"/><circle cx="1787.1" cy="109.5" r="2.9"/><circle cx="1789.7" cy="118.9" r="2.9"/><circle cx="1789.7" cy="126.1" r="2.9"/><circle cx="1798.9" cy="101" r="2.9"/><circle cx="1807.7" cy="113.5" r="2.9"/><circle cx="1807.7" cy="121" r="2.9"/><circle cx="1807.7" cy="128" r="2.9"/><circle cx="1793.6" cy="95.7" r="2.9"/><circle cx="1812.6" cy="143" r="2.9"/></g>
<polygon fill="#1c7fd6" stroke="#1c7fd6" stroke-width="2.4" stroke-linejoin="round" points="1784.6,100 1791.7,96.5 1797.5,96.5 1798.9,103 1804.6,107 1806.3,113.5 1806.3,128 1810.6,131.5 1813.1,137.5 1811.1,142.5 1806.6,139 1802.5,135 1800,132.3 1792.1,130.5 1791.6,111.9 1786.3,106 1784.1,102.5"/>
<g fill="url(#gH)"><circle cx="1781.6" cy="88.5" r="2.9"/><circle cx="1784.1" cy="92" r="2.9"/><circle cx="1782.1" cy="96" r="2.9"/><circle cx="1788.1" cy="90.5" r="2.9"/><circle cx="1790.6" cy="94" r="2.9"/><circle cx="1786.1" cy="87.5" r="2.9"/><circle cx="1794.2" cy="132.5" r="2.9"/><circle cx="1799.6" cy="134.5" r="2.9"/><circle cx="1803.7" cy="140.5" r="2.9"/><circle cx="1802.5" cy="145" r="2.9"/><circle cx="1805.4" cy="146.5" r="2.9"/><circle cx="1809.1" cy="149.9" r="2.9"/><circle cx="1797.5" cy="149" r="2.9"/><circle cx="1800" cy="151" r="2.9"/><circle cx="1804.1" cy="154" r="2.9"/><circle cx="1794.2" cy="154.8" r="2.9"/><circle cx="1798.4" cy="158.1" r="2.9"/></g>
<g fill="#1c7fd6"><circle cx="1807.4" cy="147" r="2"/><circle cx="1802.5" cy="153.2" r="2"/><circle cx="1798.4" cy="155.8" r="2"/><circle cx="1783.4" cy="87.7" r="2"/><circle cx="1786.6" cy="93.5" r="2"/></g>
<g fill="url(#gH)"><circle cx="1830.6" cy="102.8" r="2.9"/><circle cx="1834.6" cy="109.5" r="2.9"/><circle cx="1837.2" cy="118.9" r="2.9"/><circle cx="1837.2" cy="126.1" r="2.9"/><circle cx="1846.4" cy="101" r="2.9"/><circle cx="1855.2" cy="113.5" r="2.9"/><circle cx="1855.2" cy="121" r="2.9"/><circle cx="1855.2" cy="128" r="2.9"/><circle cx="1841.1" cy="95.7" r="2.9"/><circle cx="1860.1" cy="143" r="2.9"/></g>
<polygon fill="#1c7fd6" stroke="#1c7fd6" stroke-width="2.4" stroke-linejoin="round" points="1832.1,100 1839.2,96.5 1845,96.5 1846.4,103 1852.1,107 1853.8,113.5 1853.8,128 1858.1,131.5 1860.6,137.5 1858.6,142.5 1854.1,139 1850,135 1847.5,132.3 1839.6,130.5 1839.1,111.9 1833.8,106 1831.6,102.5"/>
<g fill="url(#gH)"><circle cx="1829.1" cy="88.5" r="2.9"/><circle cx="1831.6" cy="92" r="2.9"/><circle cx="1829.6" cy="96" r="2.9"/><circle cx="1835.6" cy="90.5" r="2.9"/><circle cx="1838.1" cy="94" r="2.9"/><circle cx="1833.6" cy="87.5" r="2.9"/><circle cx="1841.7" cy="132.5" r="2.9"/><circle cx="1847.1" cy="134.5" r="2.9"/><circle cx="1851.2" cy="140.5" r="2.9"/><circle cx="1850" cy="145" r="2.9"/><circle cx="1852.9" cy="146.5" r="2.9"/><circle cx="1856.6" cy="149.9" r="2.9"/><circle cx="1845" cy="149" r="2.9"/><circle cx="1847.5" cy="151" r="2.9"/><circle cx="1851.6" cy="154" r="2.9"/><circle cx="1841.7" cy="154.8" r="2.9"/><circle cx="1845.9" cy="158.1" r="2.9"/></g>
<g fill="#1c7fd6"><circle cx="1854.9" cy="147" r="2"/><circle cx="1850" cy="153.2" r="2"/><circle cx="1845.9" cy="155.8" r="2"/><circle cx="1830.9" cy="87.7" r="2"/><circle cx="1834.1" cy="93.5" r="2"/></g>
<g fill="url(#gH)"><circle cx="1740.5" cy="188.3" r="2.9"/><circle cx="1744.5" cy="195" r="2.9"/><circle cx="1747.1" cy="204.4" r="2.9"/><circle cx="1747.1" cy="211.6" r="2.9"/><circle cx="1756.3" cy="186.5" r="2.9"/><circle cx="1765.1" cy="199" r="2.9"/><circle cx="1765.1" cy="206.5" r="2.9"/><circle cx="1765.1" cy="213.5" r="2.9"/><circle cx="1751" cy="181.2" r="2.9"/><circle cx="1770" cy="228.5" r="2.9"/></g>
<polygon fill="#1c7fd6" stroke="#1c7fd6" stroke-width="2.4" stroke-linejoin="round" points="1742,185.5 1749.1,182 1754.9,182 1756.3,188.5 1762,192.5 1763.7,199 1763.7,213.5 1768,217 1770.5,223 1768.5,228 1764,224.5 1759.9,220.5 1757.4,217.8 1749.5,216 1749,197.4 1743.7,191.5 1741.5,188"/>
<g fill="url(#gH)"><circle cx="1739" cy="174" r="2.9"/><circle cx="1741.5" cy="177.5" r="2.9"/><circle cx="1739.5" cy="181.5" r="2.9"/><circle cx="1745.5" cy="176" r="2.9"/><circle cx="1748" cy="179.5" r="2.9"/><circle cx="1743.5" cy="173" r="2.9"/><circle cx="1751.6" cy="218" r="2.9"/><circle cx="1757" cy="220" r="2.9"/><circle cx="1761.1" cy="226" r="2.9"/><circle cx="1759.9" cy="230.5" r="2.9"/><circle cx="1762.8" cy="232" r="2.9"/><circle cx="1766.5" cy="235.4" r="2.9"/><circle cx="1754.9" cy="234.5" r="2.9"/><circle cx="1757.4" cy="236.5" r="2.9"/><circle cx="1761.5" cy="239.5" r="2.9"/><circle cx="1751.6" cy="240.3" r="2.9"/><circle cx="1755.8" cy="243.6" r="2.9"/></g>
<g fill="#1c7fd6"><circle cx="1764.8" cy="232.5" r="2"/><circle cx="1759.9" cy="238.7" r="2"/><circle cx="1755.8" cy="241.3" r="2"/><circle cx="1740.8" cy="173.2" r="2"/><circle cx="1744" cy="179" r="2"/></g>
<g fill="url(#gH)"><circle cx="1785.9" cy="188.3" r="2.9"/><circle cx="1789.9" cy="195" r="2.9"/><circle cx="1792.5" cy="204.4" r="2.9"/><circle cx="1792.5" cy="211.6" r="2.9"/><circle cx="1801.7" cy="186.5" r="2.9"/><circle cx="1810.5" cy="199" r="2.9"/><circle cx="1810.5" cy="206.5" r="2.9"/><circle cx="1810.5" cy="213.5" r="2.9"/><circle cx="1796.4" cy="181.2" r="2.9"/><circle cx="1815.4" cy="228.5" r="2.9"/></g>
<polygon fill="#1c7fd6" stroke="#1c7fd6" stroke-width="2.4" stroke-linejoin="round" points="1787.4,185.5 1794.5,182 1800.3,182 1801.7,188.5 1807.4,192.5 1809.1,199 1809.1,213.5 1813.4,217 1815.9,223 1813.9,228 1809.4,224.5 1805.3,220.5 1802.8,217.8 1794.9,216 1794.4,197.4 1789.1,191.5 1786.9,188"/>
<g fill="url(#gH)"><circle cx="1784.4" cy="174" r="2.9"/><circle cx="1786.9" cy="177.5" r="2.9"/><circle cx="1784.9" cy="181.5" r="2.9"/><circle cx="1790.9" cy="176" r="2.9"/><circle cx="1793.4" cy="179.5" r="2.9"/><circle cx="1788.9" cy="173" r="2.9"/><circle cx="1797" cy="218" r="2.9"/><circle cx="1802.4" cy="220" r="2.9"/><circle cx="1806.5" cy="226" r="2.9"/><circle cx="1805.3" cy="230.5" r="2.9"/><circle cx="1808.2" cy="232" r="2.9"/><circle cx="1811.9" cy="235.4" r="2.9"/><circle cx="1800.3" cy="234.5" r="2.9"/><circle cx="1802.8" cy="236.5" r="2.9"/><circle cx="1806.9" cy="239.5" r="2.9"/><circle cx="1797" cy="240.3" r="2.9"/><circle cx="1801.2" cy="243.6" r="2.9"/></g>
<g fill="#1c7fd6"><circle cx="1810.2" cy="232.5" r="2"/><circle cx="1805.3" cy="238.7" r="2"/><circle cx="1801.2" cy="241.3" r="2"/><circle cx="1786.2" cy="173.2" r="2"/><circle cx="1789.4" cy="179" r="2"/></g>
<g fill="url(#gH)"><circle cx="1833.3" cy="188.3" r="2.9"/><circle cx="1837.3" cy="195" r="2.9"/><circle cx="1839.9" cy="204.4" r="2.9"/><circle cx="1839.9" cy="211.6" r="2.9"/><circle cx="1849.1" cy="186.5" r="2.9"/><circle cx="1857.9" cy="199" r="2.9"/><circle cx="1857.9" cy="206.5" r="2.9"/><circle cx="1857.9" cy="213.5" r="2.9"/><circle cx="1843.8" cy="181.2" r="2.9"/><circle cx="1862.8" cy="228.5" r="2.9"/></g>
<polygon fill="#1c7fd6" stroke="#1c7fd6" stroke-width="2.4" stroke-linejoin="round" points="1834.8,185.5 1841.9,182 1847.7,182 1849.1,188.5 1854.8,192.5 1856.5,199 1856.5,213.5 1860.8,217 1863.3,223 1861.3,228 1856.8,224.5 1852.7,220.5 1850.2,217.8 1842.3,216 1841.8,197.4 1836.5,191.5 1834.3,188"/>
<g fill="url(#gH)"><circle cx="1831.8" cy="174" r="2.9"/><circle cx="1834.3" cy="177.5" r="2.9"/><circle cx="1832.3" cy="181.5" r="2.9"/><circle cx="1838.3" cy="176" r="2.9"/><circle cx="1840.8" cy="179.5" r="2.9"/><circle cx="1836.3" cy="173" r="2.9"/><circle cx="1844.4" cy="218" r="2.9"/><circle cx="1849.8" cy="220" r="2.9"/><circle cx="1853.9" cy="226" r="2.9"/><circle cx="1852.7" cy="230.5" r="2.9"/><circle cx="1855.6" cy="232" r="2.9"/><circle cx="1859.3" cy="235.4" r="2.9"/><circle cx="1847.7" cy="234.5" r="2.9"/><circle cx="1850.2" cy="236.5" r="2.9"/><circle cx="1854.3" cy="239.5" r="2.9"/><circle cx="1844.4" cy="240.3" r="2.9"/><circle cx="1848.6" cy="243.6" r="2.9"/></g>
<g fill="#1c7fd6"><circle cx="1857.6" cy="232.5" r="2"/><circle cx="1852.7" cy="238.7" r="2"/><circle cx="1848.6" cy="241.3" r="2"/><circle cx="1833.6" cy="173.2" r="2"/><circle cx="1836.8" cy="179" r="2"/></g>
<g fill="url(#gH)"><circle cx="1743.2" cy="274.9" r="2.9"/><circle cx="1747.2" cy="281.6" r="2.9"/><circle cx="1749.8" cy="291" r="2.9"/><circle cx="1749.8" cy="298.2" r="2.9"/><circle cx="1759" cy="273.1" r="2.9"/><circle cx="1767.8" cy="285.6" r="2.9"/><circle cx="1767.8" cy="293.1" r="2.9"/><circle cx="1767.8" cy="300.1" r="2.9"/><circle cx="1753.7" cy="267.8" r="2.9"/><circle cx="1772.7" cy="315.1" r="2.9"/></g>
<polygon fill="#1c7fd6" stroke="#1c7fd6" stroke-width="2.4" stroke-linejoin="round" points="1744.7,272.1 1751.8,268.6 1757.6,268.6 1759,275.1 1764.7,279.1 1766.4,285.6 1766.4,300.1 1770.7,303.6 1773.2,309.6 1771.2,314.6 1766.7,311.1 1762.6,307.1 1760.1,304.4 1752.2,302.6 1751.7,284 1746.4,278.1 1744.2,274.6"/>
<g fill="url(#gH)"><circle cx="1741.7" cy="260.6" r="2.9"/><circle cx="1744.2" cy="264.1" r="2.9"/><circle cx="1742.2" cy="268.1" r="2.9"/><circle cx="1748.2" cy="262.6" r="2.9"/><circle cx="1750.7" cy="266.1" r="2.9"/><circle cx="1746.2" cy="259.6" r="2.9"/><circle cx="1754.3" cy="304.6" r="2.9"/><circle cx="1759.7" cy="306.6" r="2.9"/><circle cx="1763.8" cy="312.6" r="2.9"/><circle cx="1762.6" cy="317.1" r="2.9"/><circle cx="1765.5" cy="318.6" r="2.9"/><circle cx="1769.2" cy="322" r="2.9"/><circle cx="1757.6" cy="321.1" r="2.9"/><circle cx="1760.1" cy="323.1" r="2.9"/><circle cx="1764.2" cy="326.1" r="2.9"/><circle cx="1754.3" cy="326.9" r="2.9"/><circle cx="1758.5" cy="330.2" r="2.9"/></g>
<g fill="#1c7fd6"><circle cx="1767.5" cy="319.1" r="2"/><circle cx="1762.6" cy="325.3" r="2"/><circle cx="1758.5" cy="327.9" r="2"/><circle cx="1743.5" cy="259.8" r="2"/><circle cx="1746.7" cy="265.6" r="2"/></g>
<g fill="url(#gH)"><circle cx="1788.7" cy="274.9" r="2.9"/><circle cx="1792.7" cy="281.6" r="2.9"/><circle cx="1795.3" cy="291" r="2.9"/><circle cx="1795.3" cy="298.2" r="2.9"/><circle cx="1804.5" cy="273.1" r="2.9"/><circle cx="1813.3" cy="285.6" r="2.9"/><circle cx="1813.3" cy="293.1" r="2.9"/><circle cx="1813.3" cy="300.1" r="2.9"/><circle cx="1799.2" cy="267.8" r="2.9"/><circle cx="1818.2" cy="315.1" r="2.9"/></g>
<polygon fill="#1c7fd6" stroke="#1c7fd6" stroke-width="2.4" stroke-linejoin="round" points="1790.2,272.1 1797.3,268.6 1803.1,268.6 1804.5,275.1 1810.2,279.1 1811.9,285.6 1811.9,300.1 1816.2,303.6 1818.7,309.6 1816.7,314.6 1812.2,311.1 1808.1,307.1 1805.6,304.4 1797.7,302.6 1797.2,284 1791.9,278.1 1789.7,274.6"/>
<g fill="url(#gH)"><circle cx="1787.2" cy="260.6" r="2.9"/><circle cx="1789.7" cy="264.1" r="2.9"/><circle cx="1787.7" cy="268.1" r="2.9"/><circle cx="1793.7" cy="262.6" r="2.9"/><circle cx="1796.2" cy="266.1" r="2.9"/><circle cx="1791.7" cy="259.6" r="2.9"/><circle cx="1799.8" cy="304.6" r="2.9"/><circle cx="1805.2" cy="306.6" r="2.9"/><circle cx="1809.3" cy="312.6" r="2.9"/><circle cx="1808.1" cy="317.1" r="2.9"/><circle cx="1811" cy="318.6" r="2.9"/><circle cx="1814.7" cy="322" r="2.9"/><circle cx="1803.1" cy="321.1" r="2.9"/><circle cx="1805.6" cy="323.1" r="2.9"/><circle cx="1809.7" cy="326.1" r="2.9"/><circle cx="1799.8" cy="326.9" r="2.9"/><circle cx="1804" cy="330.2" r="2.9"/></g>
<g fill="#1c7fd6"><circle cx="1813" cy="319.1" r="2"/><circle cx="1808.1" cy="325.3" r="2"/><circle cx="1804" cy="327.9" r="2"/><circle cx="1789" cy="259.8" r="2"/><circle cx="1792.2" cy="265.6" r="2"/></g>
<g fill="url(#gH)"><circle cx="1836" cy="274.9" r="2.9"/><circle cx="1840" cy="281.6" r="2.9"/><circle cx="1842.6" cy="291" r="2.9"/><circle cx="1842.6" cy="298.2" r="2.9"/><circle cx="1851.8" cy="273.1" r="2.9"/><circle cx="1860.6" cy="285.6" r="2.9"/><circle cx="1860.6" cy="293.1" r="2.9"/><circle cx="1860.6" cy="300.1" r="2.9"/><circle cx="1846.5" cy="267.8" r="2.9"/><circle cx="1865.5" cy="315.1" r="2.9"/></g>
<polygon fill="#1c7fd6" stroke="#1c7fd6" stroke-width="2.4" stroke-linejoin="round" points="1837.5,272.1 1844.6,268.6 1850.4,268.6 1851.8,275.1 1857.5,279.1 1859.2,285.6 1859.2,300.1 1863.5,303.6 1866,309.6 1864,314.6 1859.5,311.1 1855.4,307.1 1852.9,304.4 1845,302.6 1844.5,284 1839.2,278.1 1837,274.6"/>
<g fill="url(#gH)"><circle cx="1834.5" cy="260.6" r="2.9"/><circle cx="1837" cy="264.1" r="2.9"/><circle cx="1835" cy="268.1" r="2.9"/><circle cx="1841" cy="262.6" r="2.9"/><circle cx="1843.5" cy="266.1" r="2.9"/><circle cx="1839" cy="259.6" r="2.9"/><circle cx="1847.1" cy="304.6" r="2.9"/><circle cx="1852.5" cy="306.6" r="2.9"/><circle cx="1856.6" cy="312.6" r="2.9"/><circle cx="1855.4" cy="317.1" r="2.9"/><circle cx="1858.3" cy="318.6" r="2.9"/><circle cx="1862" cy="322" r="2.9"/><circle cx="1850.4" cy="321.1" r="2.9"/><circle cx="1852.9" cy="323.1" r="2.9"/><circle cx="1857" cy="326.1" r="2.9"/><circle cx="1847.1" cy="326.9" r="2.9"/><circle cx="1851.3" cy="330.2" r="2.9"/></g>
<g fill="#1c7fd6"><circle cx="1860.3" cy="319.1" r="2"/><circle cx="1855.4" cy="325.3" r="2"/><circle cx="1851.3" cy="327.9" r="2"/><circle cx="1836.3" cy="259.8" r="2"/><circle cx="1839.5" cy="265.6" r="2"/></g>
<g fill="#86a965" fill-opacity="0.8">
<polygon fill="#86a965" points="1743.4,92.5 1766.6,92.5 1766.6,244 1778.4,244 1755,266.5 1732.1,244 1743.4,244"/>
<polygon fill="#86a965" points="1744,280.8 1880.8,280.8 1880.8,271.5 1900,290.7 1880.8,310 1880.8,300 1744,300"/>
</g>
<circle cx="1751.1" cy="117.8" r="8.6" fill="none" stroke="#111" stroke-width="2"/>
<line x1="1745.6" y1="117.8" x2="1756.6" y2="117.8" stroke="#111" stroke-width="2.2"/>
<line x1="1751.1" y1="112.3" x2="1751.1" y2="123.3" stroke="#111" stroke-width="2.2"/>
<circle cx="1750.9" cy="207.3" r="8.6" fill="none" stroke="#111" stroke-width="2"/>
<line x1="1745.4" y1="207.3" x2="1756.4" y2="207.3" stroke="#111" stroke-width="2.2"/>
<line x1="1750.9" y1="201.8" x2="1750.9" y2="212.8" stroke="#111" stroke-width="2.2"/>
<circle cx="1779" cy="290.7" r="8.6" fill="none" stroke="#111" stroke-width="2"/>
<line x1="1773.5" y1="290.7" x2="1784.5" y2="290.7" stroke="#111" stroke-width="2.2"/>
<line x1="1779" y1="285.2" x2="1779" y2="296.2" stroke="#111" stroke-width="2.2"/>
<circle cx="1814.2" cy="290.7" r="8.6" fill="none" stroke="#111" stroke-width="2"/>
<line x1="1808.7" y1="290.7" x2="1819.7" y2="290.7" stroke="#111" stroke-width="2.2"/>
<line x1="1814.2" y1="285.2" x2="1814.2" y2="296.2" stroke="#111" stroke-width="2.2"/>
<circle cx="1841.7" cy="290.7" r="8.6" fill="none" stroke="#111" stroke-width="2"/>
<line x1="1836.2" y1="290.7" x2="1847.2" y2="290.7" stroke="#111" stroke-width="2.2"/>
<line x1="1841.7" y1="285.2" x2="1841.7" y2="296.2" stroke="#111" stroke-width="2.2"/>
<circle cx="1870.6" cy="290.7" r="8.6" fill="none" stroke="#111" stroke-width="2"/>
<line x1="1865.1" y1="290.7" x2="1876.1" y2="290.7" stroke="#111" stroke-width="2.2"/>
<line x1="1870.6" y1="285.2" x2="1870.6" y2="296.2" stroke="#111" stroke-width="2.2"/>
</svg>
</body></html>
